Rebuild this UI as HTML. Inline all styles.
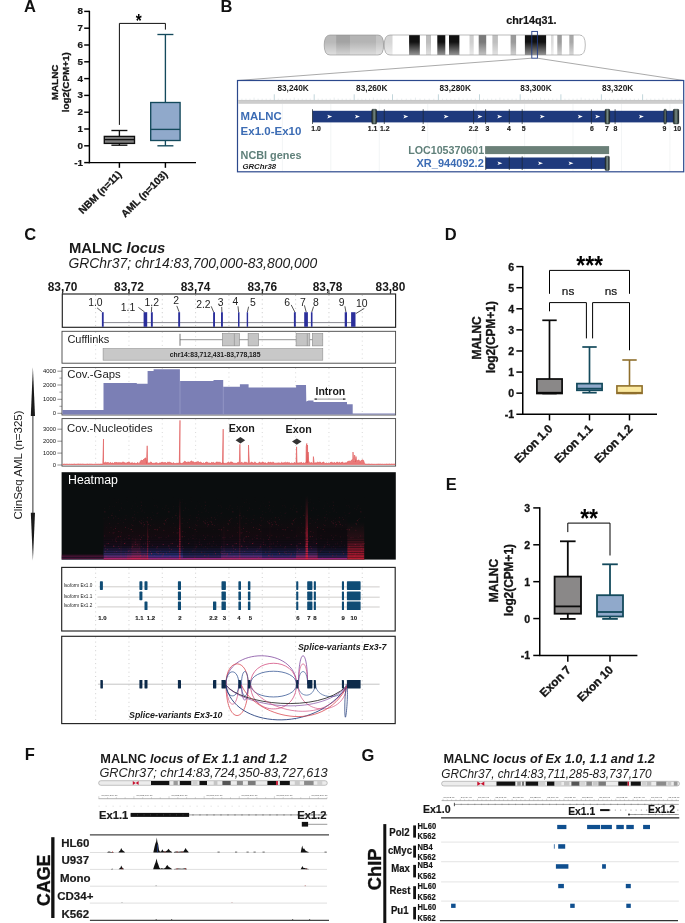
<!DOCTYPE html>
<html lang="en">
<head>
<meta charset="utf-8">
<title>MALNC locus figure</title>
<style>
html,body{margin:0;padding:0;background:#fff;}
body{width:685px;height:923px;overflow:hidden;font-family:"Liberation Sans",sans-serif;}
svg{display:block;font-family:"Liberation Sans",sans-serif;}
</style>
</head>
<body>
<svg width="685" height="923" viewBox="0 0 685 923">
<defs>
<clipPath id="chrclip">
<path d="M330 35 H378 Q383.6 35 383.6 45 Q383.6 55 378 55 H330 Q324.2 55 324.2 45 Q324.2 35 330 35 Z"/>
<path d="M390 35 H579.5 Q585.3 35 585.3 45 Q585.3 55 579.5 55 H390 Q384.2 55 384.2 45 Q384.2 35 390 35 Z"/>
</clipPath>
<linearGradient id="chrshade" x1="0" y1="0" x2="0" y2="1">
<stop offset="0" stop-color="#fff" stop-opacity="0.0"/>
<stop offset="0.35" stop-color="#fff" stop-opacity="0.0"/>
<stop offset="1" stop-color="#fff" stop-opacity="0.55"/>
</linearGradient>
<linearGradient id="cylg" x1="0" y1="0" x2="1" y2="0">
<stop offset="0" stop-color="#161e1e"/>
<stop offset="0.5" stop-color="#788d87"/>
<stop offset="1" stop-color="#161e1e"/>
</linearGradient>

<linearGradient id="hmglow" x1="0" y1="0" x2="0" y2="1">
<stop offset="0.3" stop-color="#1c0810" stop-opacity="0"/>
<stop offset="0.6" stop-color="#1c0810" stop-opacity="0.5"/>
<stop offset="0.78" stop-color="#180a1c" stop-opacity="0.8"/>
<stop offset="0.87" stop-color="#1a1c48" stop-opacity="1"/>
<stop offset="0.93" stop-color="#26307a" stop-opacity="1"/>
<stop offset="0.965" stop-color="#5a2a86" stop-opacity="1"/>
<stop offset="1" stop-color="#d4207a" stop-opacity="1"/>
</linearGradient>
<linearGradient id="hmleft" x1="0" y1="0" x2="0" y2="1">
<stop offset="0" stop-color="#50103a" stop-opacity="0"/>
<stop offset="0.45" stop-color="#a01868" stop-opacity="0.75"/>
<stop offset="0.6" stop-color="#20102c" stop-opacity="0.9"/>
<stop offset="0.8" stop-color="#901860" stop-opacity="0.8"/>
<stop offset="1" stop-color="#30184a" stop-opacity="0.9"/>
</linearGradient>
<linearGradient id="hmstreak" x1="0" y1="0" x2="0" y2="1">
<stop offset="0" stop-color="#c01a34" stop-opacity="0"/>
<stop offset="0.5" stop-color="#c81c38" stop-opacity="0.45"/>
<stop offset="1" stop-color="#f02448" stop-opacity="0.95"/>
</linearGradient>
<linearGradient id="hmblob" x1="0" y1="0" x2="0" y2="1">
<stop offset="0" stop-color="#c01838" stop-opacity="0"/>
<stop offset="0.45" stop-color="#c01838" stop-opacity="0.22"/>
<stop offset="0.7" stop-color="#d01a3c" stop-opacity="0.7"/>
<stop offset="1" stop-color="#f0203c" stop-opacity="1"/>
</linearGradient>
<linearGradient id="hmmaskg" x1="0" y1="0" x2="0" y2="1">
<stop offset="0" stop-color="#fff" stop-opacity="0"/>
<stop offset="0.25" stop-color="#fff" stop-opacity="0.2"/>
<stop offset="0.7" stop-color="#fff" stop-opacity="0.55"/>
<stop offset="1" stop-color="#fff" stop-opacity="1"/>
</linearGradient>
<mask id="hmmask" maskContentUnits="userSpaceOnUse"><rect x="60" y="495" width="340" height="65" fill="url(#hmmaskg)"/></mask>
<pattern id="hmstripes" width="4" height="2.4" patternUnits="userSpaceOnUse"><rect x="0" y="0" width="4" height="0.9" fill="#07090a" fill-opacity="0.55"/></pattern>
<pattern id="hmdots" width="64" height="64" patternUnits="userSpaceOnUse"><circle cx="28.95" cy="35.83" r="0.5" fill="#c01848"/><circle cx="28.92" cy="54.72" r="0.28" fill="#b0204a"/><circle cx="30.45" cy="39.29" r="0.28" fill="#c01848"/><circle cx="19.42" cy="5.8" r="0.46" fill="#e0203c"/><circle cx="38.11" cy="25.35" r="0.36" fill="#b0204a"/><circle cx="41.6" cy="39.88" r="0.47" fill="#e0203c"/><circle cx="3.81" cy="12.17" r="0.29" fill="#e0203c"/><circle cx="49.8" cy="20.88" r="0.4" fill="#d01a50"/><circle cx="33.22" cy="40.98" r="0.37" fill="#e0203c"/><circle cx="29.27" cy="17.8" r="0.52" fill="#e0203c"/><circle cx="45.3" cy="20.18" r="0.29" fill="#ff2a4a"/><circle cx="1.9" cy="36.04" r="0.25" fill="#e0203c"/><circle cx="54.18" cy="24.74" r="0.51" fill="#e0203c"/><circle cx="13.66" cy="59.33" r="0.24" fill="#c01848"/><circle cx="62.74" cy="25.44" r="0.24" fill="#d01a50"/><circle cx="49.82" cy="17.27" r="0.25" fill="#ff2a4a"/><circle cx="0.97" cy="26.24" r="0.5" fill="#d01a50"/><circle cx="15.77" cy="6.47" r="0.24" fill="#c01848"/><circle cx="11.37" cy="35.79" r="0.35" fill="#d01a50"/><circle cx="63.06" cy="49.25" r="0.35" fill="#c01848"/><circle cx="7.46" cy="26.93" r="0.28" fill="#ff2a4a"/><circle cx="55.32" cy="62.39" r="0.4" fill="#e0203c"/><circle cx="13.49" cy="25.23" r="0.48" fill="#b0204a"/><circle cx="6.42" cy="63.32" r="0.28" fill="#ff2a4a"/><circle cx="0.61" cy="39.06" r="0.47" fill="#c01848"/><circle cx="4.7" cy="5.77" r="0.39" fill="#d01a50"/><circle cx="0.99" cy="23.6" r="0.41" fill="#d01a50"/><circle cx="61.38" cy="30.96" r="0.39" fill="#c01848"/><circle cx="11.7" cy="9.86" r="0.49" fill="#b0204a"/><circle cx="15.97" cy="12.15" r="0.44" fill="#b0204a"/><circle cx="12.58" cy="60.81" r="0.48" fill="#b0204a"/><circle cx="5.02" cy="3.03" r="0.25" fill="#b0204a"/><circle cx="61.61" cy="15.26" r="0.43" fill="#ff2a4a"/><circle cx="26.93" cy="57.91" r="0.37" fill="#b0204a"/><circle cx="11.23" cy="46.1" r="0.24" fill="#d01a50"/><circle cx="30.68" cy="41.82" r="0.4" fill="#e0203c"/><circle cx="17.93" cy="58.71" r="0.28" fill="#e0203c"/><circle cx="4.43" cy="26.33" r="0.29" fill="#e0203c"/><circle cx="11.28" cy="23.6" r="0.39" fill="#d01a50"/><circle cx="5.9" cy="8.86" r="0.36" fill="#ff2a4a"/><circle cx="42.04" cy="44.24" r="0.4" fill="#d01a50"/><circle cx="37.75" cy="59.11" r="0.36" fill="#ff2a4a"/><circle cx="44.86" cy="61.62" r="0.23" fill="#e0203c"/><circle cx="30.86" cy="46.75" r="0.32" fill="#e0203c"/><circle cx="4.82" cy="34.95" r="0.44" fill="#d01a50"/><circle cx="50.77" cy="58.56" r="0.33" fill="#c01848"/><circle cx="57.65" cy="55.75" r="0.35" fill="#e0203c"/><circle cx="55.26" cy="36.66" r="0.41" fill="#c01848"/><circle cx="24.27" cy="0.8" r="0.24" fill="#e0203c"/><circle cx="40.92" cy="63.57" r="0.48" fill="#ff2a4a"/><circle cx="24.86" cy="47.04" r="0.39" fill="#c01848"/><circle cx="29.61" cy="34.64" r="0.38" fill="#b0204a"/><circle cx="1.91" cy="38.48" r="0.36" fill="#d01a50"/><circle cx="61.27" cy="7.22" r="0.45" fill="#c01848"/><circle cx="16.37" cy="0.72" r="0.31" fill="#b0204a"/><circle cx="12.96" cy="10.85" r="0.49" fill="#c01848"/><circle cx="31.89" cy="15.45" r="0.34" fill="#ff2a4a"/><circle cx="12.7" cy="27.58" r="0.46" fill="#d01a50"/><circle cx="56.34" cy="24.6" r="0.39" fill="#ff2a4a"/><circle cx="13.43" cy="8.61" r="0.33" fill="#e0203c"/><circle cx="45.52" cy="60.8" r="0.3" fill="#d01a50"/><circle cx="7.22" cy="30.17" r="0.5" fill="#c01848"/><circle cx="24.48" cy="33.28" r="0.42" fill="#b0204a"/><circle cx="28.96" cy="4.78" r="0.23" fill="#b0204a"/><circle cx="2.66" cy="45.35" r="0.39" fill="#ff2a4a"/><circle cx="41.55" cy="36.1" r="0.41" fill="#c01848"/><circle cx="29.11" cy="1.58" r="0.47" fill="#d01a50"/><circle cx="49.87" cy="51" r="0.52" fill="#e0203c"/><circle cx="28.57" cy="40.32" r="0.42" fill="#ff2a4a"/><circle cx="61.34" cy="43.81" r="0.28" fill="#c01848"/><circle cx="16.39" cy="45.71" r="0.45" fill="#b0204a"/><circle cx="45.71" cy="11.46" r="0.3" fill="#ff2a4a"/><circle cx="34.54" cy="60.6" r="0.37" fill="#d01a50"/><circle cx="25.19" cy="50.68" r="0.49" fill="#e0203c"/><circle cx="26.27" cy="57.13" r="0.34" fill="#c01848"/><circle cx="29.03" cy="40.04" r="0.49" fill="#c01848"/><circle cx="35.2" cy="41.77" r="0.37" fill="#ff2a4a"/><circle cx="29.68" cy="41.68" r="0.28" fill="#e0203c"/><circle cx="13.65" cy="57.6" r="0.51" fill="#ff2a4a"/><circle cx="34.37" cy="50.61" r="0.32" fill="#e0203c"/><circle cx="22.3" cy="5.3" r="0.35" fill="#b0204a"/><circle cx="26.97" cy="17.62" r="0.5" fill="#d01a50"/><circle cx="51.78" cy="4.1" r="0.46" fill="#d01a50"/><circle cx="34.12" cy="43.94" r="0.49" fill="#c01848"/><circle cx="9.52" cy="33.06" r="0.44" fill="#c01848"/><circle cx="60.53" cy="31.53" r="0.5" fill="#e0203c"/><circle cx="48.5" cy="28.12" r="0.39" fill="#b0204a"/><circle cx="40.89" cy="33.46" r="0.47" fill="#b0204a"/><circle cx="16.42" cy="42.96" r="0.51" fill="#b0204a"/><circle cx="13.33" cy="54.45" r="0.51" fill="#b0204a"/><circle cx="17.47" cy="31.85" r="0.34" fill="#e0203c"/><circle cx="32.2" cy="38.73" r="0.23" fill="#e0203c"/><circle cx="33.03" cy="25.64" r="0.46" fill="#b0204a"/><circle cx="7.8" cy="5.97" r="0.27" fill="#b0204a"/><circle cx="29.37" cy="58.93" r="0.46" fill="#c01848"/><circle cx="17.23" cy="30.28" r="0.26" fill="#c01848"/><circle cx="57.66" cy="59.88" r="0.5" fill="#b0204a"/><circle cx="20.3" cy="12.25" r="0.41" fill="#ff2a4a"/><circle cx="8.29" cy="49.87" r="0.23" fill="#d01a50"/><circle cx="9.95" cy="0.76" r="0.31" fill="#ff2a4a"/><circle cx="15.65" cy="31.92" r="0.37" fill="#b0204a"/><circle cx="7.86" cy="32.67" r="0.3" fill="#d01a50"/><circle cx="44.89" cy="56.24" r="0.23" fill="#c01848"/><circle cx="52.81" cy="39.41" r="0.38" fill="#b0204a"/><circle cx="40.86" cy="33.9" r="0.48" fill="#b0204a"/><circle cx="37.55" cy="8.73" r="0.49" fill="#ff2a4a"/><circle cx="57.77" cy="20.22" r="0.31" fill="#d01a50"/><circle cx="13.96" cy="63.89" r="0.49" fill="#d01a50"/><circle cx="56.89" cy="8.48" r="0.25" fill="#c01848"/><circle cx="6.21" cy="53.26" r="0.35" fill="#d01a50"/><circle cx="12.84" cy="40.19" r="0.46" fill="#e0203c"/><circle cx="12.86" cy="43.67" r="0.49" fill="#ff2a4a"/><circle cx="7.39" cy="32.36" r="0.45" fill="#b0204a"/><circle cx="63.91" cy="53.31" r="0.46" fill="#c01848"/><circle cx="6.8" cy="2.4" r="0.39" fill="#b0204a"/><circle cx="57.93" cy="30.8" r="0.28" fill="#e0203c"/><circle cx="13.05" cy="53.77" r="0.52" fill="#e0203c"/><circle cx="37.11" cy="8.6" r="0.42" fill="#e0203c"/><circle cx="48.94" cy="20.92" r="0.36" fill="#b0204a"/><circle cx="22.69" cy="13.45" r="0.33" fill="#e0203c"/><circle cx="54.03" cy="11.6" r="0.36" fill="#ff2a4a"/><circle cx="25.94" cy="12.49" r="0.27" fill="#b0204a"/><circle cx="50.71" cy="20.72" r="0.25" fill="#c01848"/><circle cx="36.46" cy="12.22" r="0.4" fill="#ff2a4a"/><circle cx="51.51" cy="16.53" r="0.49" fill="#d01a50"/><circle cx="52.14" cy="25.96" r="0.49" fill="#b0204a"/><circle cx="44.47" cy="49.11" r="0.45" fill="#c01848"/><circle cx="13.24" cy="11.83" r="0.46" fill="#ff2a4a"/><circle cx="30.01" cy="0.68" r="0.33" fill="#b0204a"/><circle cx="3.17" cy="17.47" r="0.51" fill="#ff2a4a"/><circle cx="21.62" cy="42.22" r="0.39" fill="#b0204a"/><circle cx="4.92" cy="32.94" r="0.37" fill="#d01a50"/><circle cx="44.88" cy="48.75" r="0.51" fill="#e0203c"/><circle cx="7.35" cy="6.92" r="0.29" fill="#c01848"/><circle cx="25.7" cy="3.23" r="0.28" fill="#c01848"/><circle cx="0.69" cy="16.55" r="0.3" fill="#ff2a4a"/><circle cx="35.2" cy="32.5" r="0.51" fill="#b0204a"/><circle cx="54.17" cy="6.38" r="0.35" fill="#e0203c"/><circle cx="35.16" cy="42.78" r="0.51" fill="#c01848"/><circle cx="59.53" cy="10.24" r="0.36" fill="#d01a50"/><circle cx="54.76" cy="34.69" r="0.4" fill="#c01848"/><circle cx="60.5" cy="26.93" r="0.38" fill="#b0204a"/><circle cx="19.99" cy="33.95" r="0.36" fill="#ff2a4a"/><circle cx="35.88" cy="18.15" r="0.43" fill="#ff2a4a"/><circle cx="1.72" cy="49.44" r="0.4" fill="#d01a50"/><circle cx="26.16" cy="43.8" r="0.24" fill="#ff2a4a"/><circle cx="47.9" cy="3.21" r="0.52" fill="#ff2a4a"/><circle cx="4.7" cy="57.96" r="0.35" fill="#c01848"/><circle cx="16.06" cy="48.35" r="0.23" fill="#e0203c"/><circle cx="59.99" cy="46.26" r="0.36" fill="#d01a50"/><circle cx="38.63" cy="7.37" r="0.41" fill="#c01848"/><circle cx="7.55" cy="55.11" r="0.33" fill="#d01a50"/><circle cx="7.96" cy="28.34" r="0.42" fill="#c01848"/><circle cx="38.47" cy="40.93" r="0.42" fill="#ff2a4a"/><circle cx="49.79" cy="33.97" r="0.52" fill="#ff2a4a"/><circle cx="46.99" cy="15.26" r="0.25" fill="#ff2a4a"/><circle cx="50.2" cy="40" r="0.33" fill="#ff2a4a"/><circle cx="39.03" cy="46.4" r="0.43" fill="#d01a50"/><circle cx="40.52" cy="48.21" r="0.28" fill="#d01a50"/><circle cx="32.14" cy="41.79" r="0.28" fill="#e0203c"/><circle cx="40.22" cy="0.61" r="0.3" fill="#e0203c"/><circle cx="39.89" cy="6.56" r="0.38" fill="#e0203c"/><circle cx="48.37" cy="58.42" r="0.27" fill="#d01a50"/><circle cx="40.39" cy="23.88" r="0.36" fill="#d01a50"/><circle cx="21.65" cy="31.64" r="0.26" fill="#e0203c"/><circle cx="51.34" cy="28.63" r="0.47" fill="#d01a50"/><circle cx="28.44" cy="47.83" r="0.34" fill="#d01a50"/><circle cx="23.61" cy="41.83" r="0.52" fill="#ff2a4a"/><circle cx="18.62" cy="48.58" r="0.47" fill="#d01a50"/><circle cx="27.37" cy="23.63" r="0.25" fill="#ff2a4a"/><circle cx="5.02" cy="5.31" r="0.39" fill="#c01848"/><circle cx="52.18" cy="29.66" r="0.47" fill="#e0203c"/><circle cx="4.87" cy="13.65" r="0.42" fill="#e0203c"/><circle cx="44.49" cy="31.66" r="0.45" fill="#ff2a4a"/><circle cx="18.11" cy="9.15" r="0.33" fill="#ff2a4a"/><circle cx="23.45" cy="7.51" r="0.43" fill="#b0204a"/><circle cx="38.07" cy="57.75" r="0.43" fill="#ff2a4a"/><circle cx="28.03" cy="51.4" r="0.31" fill="#ff2a4a"/><circle cx="14.16" cy="61.94" r="0.44" fill="#b0204a"/><circle cx="15.89" cy="23.15" r="0.33" fill="#ff2a4a"/><circle cx="43.33" cy="37.43" r="0.46" fill="#b0204a"/><circle cx="23.57" cy="24.98" r="0.27" fill="#b0204a"/><circle cx="36.02" cy="11.3" r="0.45" fill="#ff2a4a"/><circle cx="51.96" cy="14.16" r="0.24" fill="#d01a50"/><circle cx="36.32" cy="61.85" r="0.42" fill="#c01848"/><circle cx="4.1" cy="35" r="0.46" fill="#e0203c"/><circle cx="21.41" cy="17.51" r="0.25" fill="#ff2a4a"/><circle cx="5.42" cy="40.58" r="0.26" fill="#c01848"/><circle cx="15.71" cy="14.11" r="0.45" fill="#b0204a"/><circle cx="21.64" cy="29.38" r="0.33" fill="#ff2a4a"/><circle cx="43.03" cy="31.59" r="0.38" fill="#e0203c"/><circle cx="45.32" cy="58.56" r="0.34" fill="#ff2a4a"/><circle cx="54.62" cy="51.58" r="0.47" fill="#c01848"/><circle cx="61.3" cy="40.98" r="0.38" fill="#e0203c"/><circle cx="51.34" cy="26.98" r="0.35" fill="#d01a50"/><circle cx="15.73" cy="10.38" r="0.41" fill="#d01a50"/><circle cx="20.54" cy="24.92" r="0.38" fill="#ff2a4a"/><circle cx="62.06" cy="3.79" r="0.31" fill="#e0203c"/><circle cx="19.42" cy="9.95" r="0.5" fill="#e0203c"/><circle cx="48.2" cy="1.1" r="0.36" fill="#e0203c"/><circle cx="20" cy="12.65" r="0.33" fill="#b0204a"/><circle cx="15.07" cy="45.9" r="0.4" fill="#d01a50"/><circle cx="28.28" cy="57.25" r="0.34" fill="#ff2a4a"/><circle cx="40.11" cy="60.29" r="0.39" fill="#ff2a4a"/><circle cx="31.02" cy="25.77" r="0.51" fill="#b0204a"/><circle cx="49.39" cy="5.91" r="0.48" fill="#c01848"/><circle cx="3.18" cy="60.64" r="0.46" fill="#c01848"/><circle cx="62.47" cy="50.86" r="0.45" fill="#e0203c"/><circle cx="42.08" cy="15.21" r="0.22" fill="#c01848"/><circle cx="57.93" cy="28.8" r="0.29" fill="#c01848"/><circle cx="38.79" cy="10.07" r="0.27" fill="#ff2a4a"/><circle cx="9.26" cy="58.12" r="0.46" fill="#d01a50"/><circle cx="40.77" cy="63.56" r="0.3" fill="#b0204a"/><circle cx="3.39" cy="36.6" r="0.27" fill="#d01a50"/><circle cx="52.57" cy="54.16" r="0.47" fill="#e0203c"/><circle cx="22.51" cy="39.35" r="0.38" fill="#c01848"/><circle cx="44.4" cy="5.3" r="0.44" fill="#b0204a"/><circle cx="54.87" cy="19.43" r="0.46" fill="#c01848"/><circle cx="12.36" cy="43.66" r="0.45" fill="#c01848"/><circle cx="13.34" cy="34.78" r="0.38" fill="#d01a50"/><circle cx="60.58" cy="61.69" r="0.31" fill="#c01848"/><circle cx="4.87" cy="19.56" r="0.36" fill="#e0203c"/><circle cx="23.02" cy="43.97" r="0.25" fill="#c01848"/><circle cx="43.25" cy="47.78" r="0.46" fill="#e0203c"/><circle cx="41.85" cy="0.79" r="0.33" fill="#c01848"/><circle cx="15.2" cy="36.1" r="0.36" fill="#e0203c"/><circle cx="54.79" cy="54.05" r="0.44" fill="#b0204a"/><circle cx="9.74" cy="40.18" r="0.5" fill="#ff2a4a"/><circle cx="61.06" cy="48.32" r="0.39" fill="#e0203c"/><circle cx="16.41" cy="12.8" r="0.44" fill="#ff2a4a"/></pattern>
</defs>
<rect x="0" y="0" width="685" height="923" fill="#ffffff"/>
<!-- Panel A -->
<g>
<text x="24" y="11.8" font-size="16.5" font-weight="bold" fill="#111">A</text>
<line x1="89.4" y1="10.75" x2="89.4" y2="163.25" stroke="#000" stroke-width="1.45"/>
<line x1="88.75" y1="162.6" x2="196" y2="162.6" stroke="#000" stroke-width="1.45"/>
<line x1="84.2" y1="162.6" x2="89.4" y2="162.6" stroke="#000" stroke-width="1.45"/>
<text x="83" y="165.5" font-size="9.9" font-weight="bold" text-anchor="end" fill="#151515" stroke="#151515" stroke-width="0.2">-1</text>
<line x1="84.2" y1="145.8" x2="89.4" y2="145.8" stroke="#000" stroke-width="1.45"/>
<text x="83" y="148.7" font-size="9.9" font-weight="bold" text-anchor="end" fill="#151515" stroke="#151515" stroke-width="0.2">0</text>
<line x1="84.2" y1="129" x2="89.4" y2="129" stroke="#000" stroke-width="1.45"/>
<text x="83" y="131.9" font-size="9.9" font-weight="bold" text-anchor="end" fill="#151515" stroke="#151515" stroke-width="0.2">1</text>
<line x1="84.2" y1="112.2" x2="89.4" y2="112.2" stroke="#000" stroke-width="1.45"/>
<text x="83" y="115.1" font-size="9.9" font-weight="bold" text-anchor="end" fill="#151515" stroke="#151515" stroke-width="0.2">2</text>
<line x1="84.2" y1="95.4" x2="89.4" y2="95.4" stroke="#000" stroke-width="1.45"/>
<text x="83" y="98.3" font-size="9.9" font-weight="bold" text-anchor="end" fill="#151515" stroke="#151515" stroke-width="0.2">3</text>
<line x1="84.2" y1="78.6" x2="89.4" y2="78.6" stroke="#000" stroke-width="1.45"/>
<text x="83" y="81.5" font-size="9.9" font-weight="bold" text-anchor="end" fill="#151515" stroke="#151515" stroke-width="0.2">4</text>
<line x1="84.2" y1="61.8" x2="89.4" y2="61.8" stroke="#000" stroke-width="1.45"/>
<text x="83" y="64.7" font-size="9.9" font-weight="bold" text-anchor="end" fill="#151515" stroke="#151515" stroke-width="0.2">5</text>
<line x1="84.2" y1="45" x2="89.4" y2="45" stroke="#000" stroke-width="1.45"/>
<text x="83" y="47.9" font-size="9.9" font-weight="bold" text-anchor="end" fill="#151515" stroke="#151515" stroke-width="0.2">6</text>
<line x1="84.2" y1="28.2" x2="89.4" y2="28.2" stroke="#000" stroke-width="1.45"/>
<text x="83" y="31.1" font-size="9.9" font-weight="bold" text-anchor="end" fill="#151515" stroke="#151515" stroke-width="0.2">7</text>
<line x1="84.2" y1="11.4" x2="89.4" y2="11.4" stroke="#000" stroke-width="1.45"/>
<text x="83" y="14.3" font-size="9.9" font-weight="bold" text-anchor="end" fill="#151515" stroke="#151515" stroke-width="0.2">8</text>
<line x1="119.4" y1="162.6" x2="119.4" y2="167.8" stroke="#000" stroke-width="1.45"/>
<line x1="165.4" y1="162.6" x2="165.4" y2="167.8" stroke="#000" stroke-width="1.45"/>
<text x="58.4" y="82.4" font-size="9.9" font-weight="bold" text-anchor="middle" fill="#151515" transform="rotate(-90 58.4 82.4)" stroke="#151515" stroke-width="0.3">MALNC</text>
<text x="68.9" y="82.2" font-size="9.9" font-weight="bold" text-anchor="middle" fill="#151515" transform="rotate(-90 68.9 82.2)" stroke="#151515" stroke-width="0.3">log2(CPM+1)</text>
<line x1="119.4" y1="130.5" x2="119.4" y2="136.4" stroke="#0f0f0f" stroke-width="1.35"/>
<line x1="119.4" y1="143.4" x2="119.4" y2="145.2" stroke="#0f0f0f" stroke-width="1.35"/>
<line x1="111.4" y1="130.5" x2="127.4" y2="130.5" stroke="#0f0f0f" stroke-width="1.35"/>
<line x1="111.4" y1="145.2" x2="127.4" y2="145.2" stroke="#0f0f0f" stroke-width="1.35"/>
<rect x="104.3" y="136.4" width="30.2" height="7" fill="#7f7f7f" stroke="#0f0f0f" stroke-width="1.35"/>
<line x1="104.3" y1="139.6" x2="134.5" y2="139.6" stroke="#0f0f0f" stroke-width="1.35"/>
<line x1="165.4" y1="34.5" x2="165.4" y2="102.5" stroke="#144a5c" stroke-width="1.35"/>
<line x1="165.4" y1="140.5" x2="165.4" y2="145.8" stroke="#144a5c" stroke-width="1.35"/>
<line x1="157.4" y1="34.5" x2="173.4" y2="34.5" stroke="#144a5c" stroke-width="1.35"/>
<line x1="157.4" y1="145.8" x2="173.4" y2="145.8" stroke="#144a5c" stroke-width="1.35"/>
<rect x="150.7" y="102.5" width="29.4" height="38" fill="#90a9cb" stroke="#144a5c" stroke-width="1.35"/>
<line x1="150.7" y1="129.4" x2="180.1" y2="129.4" stroke="#144a5c" stroke-width="1.35"/>
<path d="M119.4 124.9 V23.4 H165.4 V29.6" fill="none" stroke="#000" stroke-width="0.95"/>
<text transform="translate(138.8 26.5) scale(1 1.22)" font-size="15.3" font-weight="bold" text-anchor="middle" fill="#000">*</text>
<text x="122.2" y="175.1" font-size="10.2" font-weight="bold" text-anchor="end" fill="#151515" transform="rotate(-45 122.2 175.1)" stroke="#151515" stroke-width="0.3">NBM (n=11)</text>
<text x="168.2" y="175.1" font-size="10.2" font-weight="bold" text-anchor="end" fill="#151515" transform="rotate(-45 168.2 175.1)" stroke="#151515" stroke-width="0.3">AML (n=103)</text>
</g>
<!-- Panel B -->
<g>
<text x="220.5" y="11.8" font-size="16.5" font-weight="bold" fill="#111">B</text>
<text x="506.2" y="24.2" font-size="10.8" font-weight="bold" fill="#151515" stroke="#151515" stroke-width="0.2">chr14q31.</text>
<g clip-path="url(#chrclip)">
<rect x="324" y="35" width="60" height="20" fill="#b9b9b9"/>
<rect x="336.2" y="35" width="13.8" height="20" fill="#a3a3a3"/>
<rect x="350" y="35" width="26" height="20" fill="#b4b4b4"/>
<rect x="376" y="35" width="8" height="20" fill="#c4c4c4"/>
<rect x="384" y="35" width="203" height="20" fill="#ffffff"/>
<rect x="384" y="35" width="8.5" height="20" fill="#d6d6d6"/>
<rect x="409.1" y="35" width="10.7" height="20" fill="#111"/>
<rect x="426" y="35" width="5" height="20" fill="#bdbdbd"/>
<rect x="437.3" y="35" width="8" height="20" fill="#111"/>
<rect x="449" y="35" width="10.4" height="20" fill="#111"/>
<rect x="469.5" y="35" width="4.2" height="20" fill="#cfcfcf"/>
<rect x="478.7" y="35" width="7.5" height="20" fill="#7a7a7a"/>
<rect x="492.4" y="35" width="5.5" height="20" fill="#bfbfbf"/>
<rect x="510.6" y="35" width="5.5" height="20" fill="#9a9a9a"/>
<rect x="524.9" y="35" width="21.2" height="20" fill="#111"/>
<rect x="551" y="35" width="2.6" height="20" fill="#dcdcdc"/>
<rect x="557.3" y="35" width="4.5" height="20" fill="#9c9c9c"/>
<rect x="569.3" y="35" width="4.3" height="20" fill="#a8a8a8"/>
<rect x="324" y="35" width="263" height="20" fill="url(#chrshade)"/>
</g>
<path d="M330 35 H378 Q383.6 35 383.6 45 Q383.6 55 378 55 H330 Q324.2 55 324.2 45 Q324.2 35 330 35 Z" fill="none" stroke="#8d8d8d" stroke-width="0.6"/>
<path d="M390 35 H579.5 Q585.3 35 585.3 45 Q585.3 55 579.5 55 H390 Q384.2 55 384.2 45 Q384.2 35 390 35 Z" fill="none" stroke="#8d8d8d" stroke-width="0.6"/>
<rect x="531.8" y="31.4" width="5.6" height="26.8" fill="none" stroke="#233c86" stroke-width="0.9"/>
<line x1="531.8" y1="58.2" x2="237.5" y2="80.5" stroke="#555" stroke-width="0.5"/>
<line x1="537.4" y1="58.2" x2="683.7" y2="80.5" stroke="#555" stroke-width="0.5"/>
<rect x="237.5" y="80.5" width="446.2" height="91.3" fill="#fff" stroke="#2b488c" stroke-width="1.2"/>
<line x1="282.4" y1="104" x2="282.4" y2="171" stroke="#eef0f2" stroke-width="0.7"/>
<line x1="330.8" y1="104" x2="330.8" y2="171" stroke="#eef0f2" stroke-width="0.7"/>
<line x1="379.3" y1="104" x2="379.3" y2="171" stroke="#eef0f2" stroke-width="0.7"/>
<line x1="427.7" y1="104" x2="427.7" y2="171" stroke="#eef0f2" stroke-width="0.7"/>
<line x1="476.2" y1="104" x2="476.2" y2="171" stroke="#eef0f2" stroke-width="0.7"/>
<line x1="524.6" y1="104" x2="524.6" y2="171" stroke="#eef0f2" stroke-width="0.7"/>
<line x1="573" y1="104" x2="573" y2="171" stroke="#eef0f2" stroke-width="0.7"/>
<line x1="621.5" y1="104" x2="621.5" y2="171" stroke="#eef0f2" stroke-width="0.7"/>
<line x1="669.9" y1="104" x2="669.9" y2="171" stroke="#eef0f2" stroke-width="0.7"/>
<rect x="238.1" y="100.2" width="445" height="3.6" fill="#cdcdcd"/>
<line x1="238.1" y1="100.4" x2="683.1" y2="100.4" stroke="#b5b5b5" stroke-width="0.5"/>
<line x1="241.9" y1="98.6" x2="241.9" y2="100.2" stroke="#c4d2d6" stroke-width="0.4"/>
<line x1="245.95" y1="98.6" x2="245.95" y2="100.2" stroke="#c4d2d6" stroke-width="0.4"/>
<line x1="250" y1="98.6" x2="250" y2="100.2" stroke="#c4d2d6" stroke-width="0.4"/>
<line x1="254.05" y1="97.6" x2="254.05" y2="100.2" stroke="#c4d2d6" stroke-width="0.4"/>
<line x1="258.1" y1="98.6" x2="258.1" y2="100.2" stroke="#c4d2d6" stroke-width="0.4"/>
<line x1="262.15" y1="98.6" x2="262.15" y2="100.2" stroke="#c4d2d6" stroke-width="0.4"/>
<line x1="266.2" y1="98.6" x2="266.2" y2="100.2" stroke="#c4d2d6" stroke-width="0.4"/>
<line x1="270.25" y1="98.6" x2="270.25" y2="100.2" stroke="#c4d2d6" stroke-width="0.4"/>
<line x1="274.3" y1="94.3" x2="274.3" y2="100.2" stroke="#a9c4cc" stroke-width="0.7"/>
<line x1="278.29" y1="98.6" x2="278.29" y2="100.2" stroke="#c4d2d6" stroke-width="0.4"/>
<line x1="282.28" y1="98.6" x2="282.28" y2="100.2" stroke="#c4d2d6" stroke-width="0.4"/>
<line x1="286.27" y1="98.6" x2="286.27" y2="100.2" stroke="#c4d2d6" stroke-width="0.4"/>
<line x1="290.26" y1="98.6" x2="290.26" y2="100.2" stroke="#c4d2d6" stroke-width="0.4"/>
<line x1="294.25" y1="97.6" x2="294.25" y2="100.2" stroke="#c4d2d6" stroke-width="0.4"/>
<line x1="298.24" y1="98.6" x2="298.24" y2="100.2" stroke="#c4d2d6" stroke-width="0.4"/>
<line x1="302.23" y1="98.6" x2="302.23" y2="100.2" stroke="#c4d2d6" stroke-width="0.4"/>
<line x1="306.22" y1="98.6" x2="306.22" y2="100.2" stroke="#c4d2d6" stroke-width="0.4"/>
<line x1="310.21" y1="98.6" x2="310.21" y2="100.2" stroke="#c4d2d6" stroke-width="0.4"/>
<line x1="314.2" y1="94.3" x2="314.2" y2="100.2" stroke="#a9c4cc" stroke-width="0.7"/>
<line x1="318.2" y1="98.6" x2="318.2" y2="100.2" stroke="#c4d2d6" stroke-width="0.4"/>
<line x1="322.2" y1="98.6" x2="322.2" y2="100.2" stroke="#c4d2d6" stroke-width="0.4"/>
<line x1="326.2" y1="98.6" x2="326.2" y2="100.2" stroke="#c4d2d6" stroke-width="0.4"/>
<line x1="330.2" y1="98.6" x2="330.2" y2="100.2" stroke="#c4d2d6" stroke-width="0.4"/>
<line x1="334.2" y1="97.6" x2="334.2" y2="100.2" stroke="#c4d2d6" stroke-width="0.4"/>
<line x1="338.2" y1="98.6" x2="338.2" y2="100.2" stroke="#c4d2d6" stroke-width="0.4"/>
<line x1="342.2" y1="98.6" x2="342.2" y2="100.2" stroke="#c4d2d6" stroke-width="0.4"/>
<line x1="346.2" y1="98.6" x2="346.2" y2="100.2" stroke="#c4d2d6" stroke-width="0.4"/>
<line x1="350.2" y1="98.6" x2="350.2" y2="100.2" stroke="#c4d2d6" stroke-width="0.4"/>
<line x1="354.2" y1="94.3" x2="354.2" y2="100.2" stroke="#a9c4cc" stroke-width="0.7"/>
<line x1="358.03" y1="98.6" x2="358.03" y2="100.2" stroke="#c4d2d6" stroke-width="0.4"/>
<line x1="361.86" y1="98.6" x2="361.86" y2="100.2" stroke="#c4d2d6" stroke-width="0.4"/>
<line x1="365.69" y1="98.6" x2="365.69" y2="100.2" stroke="#c4d2d6" stroke-width="0.4"/>
<line x1="369.52" y1="98.6" x2="369.52" y2="100.2" stroke="#c4d2d6" stroke-width="0.4"/>
<line x1="373.35" y1="97.6" x2="373.35" y2="100.2" stroke="#c4d2d6" stroke-width="0.4"/>
<line x1="377.18" y1="98.6" x2="377.18" y2="100.2" stroke="#c4d2d6" stroke-width="0.4"/>
<line x1="381.01" y1="98.6" x2="381.01" y2="100.2" stroke="#c4d2d6" stroke-width="0.4"/>
<line x1="384.84" y1="98.6" x2="384.84" y2="100.2" stroke="#c4d2d6" stroke-width="0.4"/>
<line x1="388.67" y1="98.6" x2="388.67" y2="100.2" stroke="#c4d2d6" stroke-width="0.4"/>
<line x1="392.5" y1="94.3" x2="392.5" y2="100.2" stroke="#a9c4cc" stroke-width="0.7"/>
<line x1="397.09" y1="98.6" x2="397.09" y2="100.2" stroke="#c4d2d6" stroke-width="0.4"/>
<line x1="401.68" y1="98.6" x2="401.68" y2="100.2" stroke="#c4d2d6" stroke-width="0.4"/>
<line x1="406.27" y1="98.6" x2="406.27" y2="100.2" stroke="#c4d2d6" stroke-width="0.4"/>
<line x1="410.86" y1="98.6" x2="410.86" y2="100.2" stroke="#c4d2d6" stroke-width="0.4"/>
<line x1="415.45" y1="97.6" x2="415.45" y2="100.2" stroke="#c4d2d6" stroke-width="0.4"/>
<line x1="420.04" y1="98.6" x2="420.04" y2="100.2" stroke="#c4d2d6" stroke-width="0.4"/>
<line x1="424.63" y1="98.6" x2="424.63" y2="100.2" stroke="#c4d2d6" stroke-width="0.4"/>
<line x1="429.22" y1="98.6" x2="429.22" y2="100.2" stroke="#c4d2d6" stroke-width="0.4"/>
<line x1="433.81" y1="98.6" x2="433.81" y2="100.2" stroke="#c4d2d6" stroke-width="0.4"/>
<line x1="438.4" y1="94.3" x2="438.4" y2="100.2" stroke="#a9c4cc" stroke-width="0.7"/>
<line x1="442.51" y1="98.6" x2="442.51" y2="100.2" stroke="#c4d2d6" stroke-width="0.4"/>
<line x1="446.62" y1="98.6" x2="446.62" y2="100.2" stroke="#c4d2d6" stroke-width="0.4"/>
<line x1="450.73" y1="98.6" x2="450.73" y2="100.2" stroke="#c4d2d6" stroke-width="0.4"/>
<line x1="454.84" y1="98.6" x2="454.84" y2="100.2" stroke="#c4d2d6" stroke-width="0.4"/>
<line x1="458.95" y1="97.6" x2="458.95" y2="100.2" stroke="#c4d2d6" stroke-width="0.4"/>
<line x1="463.06" y1="98.6" x2="463.06" y2="100.2" stroke="#c4d2d6" stroke-width="0.4"/>
<line x1="467.17" y1="98.6" x2="467.17" y2="100.2" stroke="#c4d2d6" stroke-width="0.4"/>
<line x1="471.28" y1="98.6" x2="471.28" y2="100.2" stroke="#c4d2d6" stroke-width="0.4"/>
<line x1="475.39" y1="98.6" x2="475.39" y2="100.2" stroke="#c4d2d6" stroke-width="0.4"/>
<line x1="479.5" y1="94.3" x2="479.5" y2="100.2" stroke="#a9c4cc" stroke-width="0.7"/>
<line x1="483.57" y1="98.6" x2="483.57" y2="100.2" stroke="#c4d2d6" stroke-width="0.4"/>
<line x1="487.64" y1="98.6" x2="487.64" y2="100.2" stroke="#c4d2d6" stroke-width="0.4"/>
<line x1="491.71" y1="98.6" x2="491.71" y2="100.2" stroke="#c4d2d6" stroke-width="0.4"/>
<line x1="495.78" y1="98.6" x2="495.78" y2="100.2" stroke="#c4d2d6" stroke-width="0.4"/>
<line x1="499.85" y1="97.6" x2="499.85" y2="100.2" stroke="#c4d2d6" stroke-width="0.4"/>
<line x1="503.92" y1="98.6" x2="503.92" y2="100.2" stroke="#c4d2d6" stroke-width="0.4"/>
<line x1="507.99" y1="98.6" x2="507.99" y2="100.2" stroke="#c4d2d6" stroke-width="0.4"/>
<line x1="512.06" y1="98.6" x2="512.06" y2="100.2" stroke="#c4d2d6" stroke-width="0.4"/>
<line x1="516.13" y1="98.6" x2="516.13" y2="100.2" stroke="#c4d2d6" stroke-width="0.4"/>
<line x1="520.2" y1="94.3" x2="520.2" y2="100.2" stroke="#a9c4cc" stroke-width="0.7"/>
<line x1="524.27" y1="98.6" x2="524.27" y2="100.2" stroke="#c4d2d6" stroke-width="0.4"/>
<line x1="528.34" y1="98.6" x2="528.34" y2="100.2" stroke="#c4d2d6" stroke-width="0.4"/>
<line x1="532.41" y1="98.6" x2="532.41" y2="100.2" stroke="#c4d2d6" stroke-width="0.4"/>
<line x1="536.48" y1="98.6" x2="536.48" y2="100.2" stroke="#c4d2d6" stroke-width="0.4"/>
<line x1="540.55" y1="97.6" x2="540.55" y2="100.2" stroke="#c4d2d6" stroke-width="0.4"/>
<line x1="544.62" y1="98.6" x2="544.62" y2="100.2" stroke="#c4d2d6" stroke-width="0.4"/>
<line x1="548.69" y1="98.6" x2="548.69" y2="100.2" stroke="#c4d2d6" stroke-width="0.4"/>
<line x1="552.76" y1="98.6" x2="552.76" y2="100.2" stroke="#c4d2d6" stroke-width="0.4"/>
<line x1="556.83" y1="98.6" x2="556.83" y2="100.2" stroke="#c4d2d6" stroke-width="0.4"/>
<line x1="560.9" y1="94.3" x2="560.9" y2="100.2" stroke="#a9c4cc" stroke-width="0.7"/>
<line x1="564.95" y1="98.6" x2="564.95" y2="100.2" stroke="#c4d2d6" stroke-width="0.4"/>
<line x1="569" y1="98.6" x2="569" y2="100.2" stroke="#c4d2d6" stroke-width="0.4"/>
<line x1="573.05" y1="98.6" x2="573.05" y2="100.2" stroke="#c4d2d6" stroke-width="0.4"/>
<line x1="577.1" y1="98.6" x2="577.1" y2="100.2" stroke="#c4d2d6" stroke-width="0.4"/>
<line x1="581.15" y1="97.6" x2="581.15" y2="100.2" stroke="#c4d2d6" stroke-width="0.4"/>
<line x1="585.2" y1="98.6" x2="585.2" y2="100.2" stroke="#c4d2d6" stroke-width="0.4"/>
<line x1="589.25" y1="98.6" x2="589.25" y2="100.2" stroke="#c4d2d6" stroke-width="0.4"/>
<line x1="593.3" y1="98.6" x2="593.3" y2="100.2" stroke="#c4d2d6" stroke-width="0.4"/>
<line x1="597.35" y1="98.6" x2="597.35" y2="100.2" stroke="#c4d2d6" stroke-width="0.4"/>
<line x1="601.4" y1="94.3" x2="601.4" y2="100.2" stroke="#a9c4cc" stroke-width="0.7"/>
<line x1="605.52" y1="98.6" x2="605.52" y2="100.2" stroke="#c4d2d6" stroke-width="0.4"/>
<line x1="609.64" y1="98.6" x2="609.64" y2="100.2" stroke="#c4d2d6" stroke-width="0.4"/>
<line x1="613.76" y1="98.6" x2="613.76" y2="100.2" stroke="#c4d2d6" stroke-width="0.4"/>
<line x1="617.88" y1="98.6" x2="617.88" y2="100.2" stroke="#c4d2d6" stroke-width="0.4"/>
<line x1="622" y1="97.6" x2="622" y2="100.2" stroke="#c4d2d6" stroke-width="0.4"/>
<line x1="626.12" y1="98.6" x2="626.12" y2="100.2" stroke="#c4d2d6" stroke-width="0.4"/>
<line x1="630.24" y1="98.6" x2="630.24" y2="100.2" stroke="#c4d2d6" stroke-width="0.4"/>
<line x1="634.36" y1="98.6" x2="634.36" y2="100.2" stroke="#c4d2d6" stroke-width="0.4"/>
<line x1="638.48" y1="98.6" x2="638.48" y2="100.2" stroke="#c4d2d6" stroke-width="0.4"/>
<line x1="642.6" y1="94.3" x2="642.6" y2="100.2" stroke="#a9c4cc" stroke-width="0.7"/>
<line x1="646.68" y1="98.6" x2="646.68" y2="100.2" stroke="#c4d2d6" stroke-width="0.4"/>
<line x1="650.76" y1="98.6" x2="650.76" y2="100.2" stroke="#c4d2d6" stroke-width="0.4"/>
<line x1="654.84" y1="98.6" x2="654.84" y2="100.2" stroke="#c4d2d6" stroke-width="0.4"/>
<line x1="658.92" y1="98.6" x2="658.92" y2="100.2" stroke="#c4d2d6" stroke-width="0.4"/>
<line x1="663" y1="97.6" x2="663" y2="100.2" stroke="#c4d2d6" stroke-width="0.4"/>
<line x1="667.08" y1="98.6" x2="667.08" y2="100.2" stroke="#c4d2d6" stroke-width="0.4"/>
<line x1="671.16" y1="98.6" x2="671.16" y2="100.2" stroke="#c4d2d6" stroke-width="0.4"/>
<line x1="675.24" y1="98.6" x2="675.24" y2="100.2" stroke="#c4d2d6" stroke-width="0.4"/>
<line x1="679.32" y1="98.6" x2="679.32" y2="100.2" stroke="#c4d2d6" stroke-width="0.4"/>
<text x="277.4" y="91.3" font-size="8.3" font-weight="bold" fill="#1c1c1c">83,240K</text>
<text x="356.1" y="91.3" font-size="8.3" font-weight="bold" fill="#1c1c1c">83,260K</text>
<text x="439.5" y="91.3" font-size="8.3" font-weight="bold" fill="#1c1c1c">83,280K</text>
<text x="520.3" y="91.3" font-size="8.3" font-weight="bold" fill="#1c1c1c">83,300K</text>
<text x="601.9" y="91.3" font-size="8.3" font-weight="bold" fill="#1c1c1c">83,320K</text>
<text x="240.6" y="120" font-size="11.4" font-weight="bold" fill="#3c6cb4">MALNC</text>
<text x="240.6" y="134.9" font-size="11.5" font-weight="bold" fill="#3c6cb4">Ex1.0-Ex10</text>
<text x="240.6" y="158.6" font-size="10.85" font-weight="bold" fill="#60807a">NCBI genes</text>
<text x="242.4" y="168.6" font-size="7.8" font-weight="bold" font-style="italic" fill="#1c1c1c">GRChr38</text>
<rect x="312.4" y="110.8" width="366.4" height="11.6" fill="#1f3a7d"/>
<line x1="312.5" y1="109.2" x2="312.5" y2="124" stroke="#1a2430" stroke-width="0.7"/>
<line x1="384.3" y1="109.2" x2="384.3" y2="124" stroke="#1a2430" stroke-width="0.7"/>
<line x1="423.2" y1="109.2" x2="423.2" y2="124" stroke="#1a2430" stroke-width="0.7"/>
<line x1="473.6" y1="109.2" x2="473.6" y2="124" stroke="#1a2430" stroke-width="0.7"/>
<line x1="485.6" y1="109.2" x2="485.6" y2="124" stroke="#1a2430" stroke-width="0.7"/>
<line x1="509.3" y1="109.2" x2="509.3" y2="124" stroke="#1a2430" stroke-width="0.7"/>
<line x1="522.2" y1="109.2" x2="522.2" y2="124" stroke="#1a2430" stroke-width="0.7"/>
<line x1="591.4" y1="109.2" x2="591.4" y2="124" stroke="#1a2430" stroke-width="0.7"/>
<line x1="615.1" y1="109.2" x2="615.1" y2="124" stroke="#1a2430" stroke-width="0.7"/>
<rect x="371.8" y="109.3" width="4.8" height="14.6" fill="url(#cylg)" stroke="#1c2626" stroke-width="0.5" rx="0.8"/>
<rect x="605.1" y="109.3" width="4.6" height="14.6" fill="url(#cylg)" stroke="#1c2626" stroke-width="0.5" rx="0.8"/>
<rect x="663.9" y="109.3" width="2.4" height="14.6" fill="url(#cylg)" stroke="#1c2626" stroke-width="0.5" rx="0.8"/>
<rect x="673.3" y="109.3" width="5.5" height="14.6" fill="url(#cylg)" stroke="#1c2626" stroke-width="0.5" rx="0.8"/>
<path d="M327.2 114.8 L332.2 116.6 L327.2 118.4 L328.4 116.6 Z" fill="#fff"/>
<path d="M354.9 114.8 L359.9 116.6 L354.9 118.4 L356.1 116.6 Z" fill="#fff"/>
<path d="M403.3 114.8 L408.3 116.6 L403.3 118.4 L404.5 116.6 Z" fill="#fff"/>
<path d="M443.8 114.8 L448.8 116.6 L443.8 118.4 L445 116.6 Z" fill="#fff"/>
<path d="M477.5 114.8 L482.5 116.6 L477.5 118.4 L478.7 116.6 Z" fill="#fff"/>
<path d="M497.2 114.8 L502.2 116.6 L497.2 118.4 L498.4 116.6 Z" fill="#fff"/>
<path d="M539.9 114.8 L544.9 116.6 L539.9 118.4 L541.1 116.6 Z" fill="#fff"/>
<path d="M577.8 114.8 L582.8 116.6 L577.8 118.4 L579 116.6 Z" fill="#fff"/>
<path d="M595.2 114.8 L600.2 116.6 L595.2 118.4 L596.4 116.6 Z" fill="#fff"/>
<path d="M638.9 114.8 L643.9 116.6 L638.9 118.4 L640.1 116.6 Z" fill="#fff"/>
<text x="316.1" y="131.4" font-size="6.9" font-weight="bold" text-anchor="middle" fill="#1c1c1c" stroke="#1c1c1c" stroke-width="0.15">1.0</text>
<text x="372.6" y="131.4" font-size="6.9" font-weight="bold" text-anchor="middle" fill="#1c1c1c" stroke="#1c1c1c" stroke-width="0.15">1.1</text>
<text x="384.8" y="131.4" font-size="6.9" font-weight="bold" text-anchor="middle" fill="#1c1c1c" stroke="#1c1c1c" stroke-width="0.15">1.2</text>
<text x="423.3" y="131.4" font-size="6.9" font-weight="bold" text-anchor="middle" fill="#1c1c1c" stroke="#1c1c1c" stroke-width="0.15">2</text>
<text x="473.6" y="131.4" font-size="6.9" font-weight="bold" text-anchor="middle" fill="#1c1c1c" stroke="#1c1c1c" stroke-width="0.15">2.2</text>
<text x="487.4" y="131.4" font-size="6.9" font-weight="bold" text-anchor="middle" fill="#1c1c1c" stroke="#1c1c1c" stroke-width="0.15">3</text>
<text x="509" y="131.4" font-size="6.9" font-weight="bold" text-anchor="middle" fill="#1c1c1c" stroke="#1c1c1c" stroke-width="0.15">4</text>
<text x="523.6" y="131.4" font-size="6.9" font-weight="bold" text-anchor="middle" fill="#1c1c1c" stroke="#1c1c1c" stroke-width="0.15">5</text>
<text x="591.9" y="131.4" font-size="6.9" font-weight="bold" text-anchor="middle" fill="#1c1c1c" stroke="#1c1c1c" stroke-width="0.15">6</text>
<text x="606.9" y="131.4" font-size="6.9" font-weight="bold" text-anchor="middle" fill="#1c1c1c" stroke="#1c1c1c" stroke-width="0.15">7</text>
<text x="615.3" y="131.4" font-size="6.9" font-weight="bold" text-anchor="middle" fill="#1c1c1c" stroke="#1c1c1c" stroke-width="0.15">8</text>
<text x="664.5" y="131.4" font-size="6.9" font-weight="bold" text-anchor="middle" fill="#1c1c1c" stroke="#1c1c1c" stroke-width="0.15">9</text>
<text x="677.3" y="131.4" font-size="6.9" font-weight="bold" text-anchor="middle" fill="#1c1c1c" stroke="#1c1c1c" stroke-width="0.15">10</text>
<text x="484.2" y="154.1" font-size="10.7" font-weight="bold" text-anchor="end" fill="#60807a">LOC105370601</text>
<rect x="485.1" y="146.1" width="124" height="8" fill="#6b8078"/>
<text x="483.8" y="166.9" font-size="11" font-weight="bold" text-anchor="end" fill="#3c6cb4">XR_944092.2</text>
<rect x="485.6" y="157.5" width="123.5" height="11.4" fill="#1f3a7d"/>
<line x1="485.7" y1="156.4" x2="485.7" y2="170" stroke="#1a2430" stroke-width="0.7"/>
<line x1="509.3" y1="156.4" x2="509.3" y2="170" stroke="#1a2430" stroke-width="0.7"/>
<line x1="522.2" y1="156.4" x2="522.2" y2="170" stroke="#1a2430" stroke-width="0.7"/>
<line x1="591.4" y1="156.4" x2="591.4" y2="170" stroke="#1a2430" stroke-width="0.7"/>
<rect x="605.1" y="156.2" width="4.2" height="14.2" fill="url(#cylg)" stroke="#1c2626" stroke-width="0.5" rx="0.8"/>
<path d="M497.4 161.4 L502.4 163.2 L497.4 165 L498.6 163.2 Z" fill="#fff"/>
<path d="M538 161.4 L543 163.2 L538 165 L539.2 163.2 Z" fill="#fff"/>
<path d="M568.5 161.4 L573.5 163.2 L568.5 165 L569.7 163.2 Z" fill="#fff"/>
</g>
<!-- Panel C -->
<g>
<text x="24.3" y="240" font-size="16.5" font-weight="bold" fill="#111">C</text>
<text x="69.0" y="253" font-size="14.8" font-weight="bold" fill="#1a1a1a">MALNC <tspan font-style="italic">locus</tspan></text>
<text x="68.5" y="268.3" font-size="13.9" font-style="italic" fill="#1c1c1c">GRChr37; chr14:83,700,000-83,800,000</text>
<text x="62.6" y="291.2" font-size="11.9" font-weight="bold" text-anchor="middle" fill="#1a1a1a">83,70</text>
<text x="129" y="291.2" font-size="11.9" font-weight="bold" text-anchor="middle" fill="#1a1a1a">83,72</text>
<text x="195.6" y="291.2" font-size="11.9" font-weight="bold" text-anchor="middle" fill="#1a1a1a">83,74</text>
<text x="262.3" y="291.2" font-size="11.9" font-weight="bold" text-anchor="middle" fill="#1a1a1a">83,76</text>
<text x="327.6" y="291.2" font-size="11.9" font-weight="bold" text-anchor="middle" fill="#1a1a1a">83,78</text>
<text x="390.4" y="291.2" font-size="11.9" font-weight="bold" text-anchor="middle" fill="#1a1a1a">83,80</text>
<line x1="62.6" y1="290" x2="62.6" y2="294" stroke="#222" stroke-width="0.8"/>
<line x1="129" y1="290" x2="129" y2="294" stroke="#222" stroke-width="0.8"/>
<line x1="195.6" y1="290" x2="195.6" y2="294" stroke="#222" stroke-width="0.8"/>
<line x1="262.3" y1="290" x2="262.3" y2="294" stroke="#222" stroke-width="0.8"/>
<line x1="329" y1="290" x2="329" y2="294" stroke="#222" stroke-width="0.8"/>
<line x1="390.6" y1="290" x2="390.6" y2="294" stroke="#222" stroke-width="0.8"/>
<rect x="62.3" y="294" width="333.3" height="33.3" fill="#fff" stroke="#222" stroke-width="1.15"/>
<line x1="95.63" y1="295" x2="95.63" y2="326" stroke="#b9b9b9" stroke-width="0.8" stroke-dasharray="1 3.3"/>
<line x1="128.96" y1="295" x2="128.96" y2="326" stroke="#b9b9b9" stroke-width="0.8" stroke-dasharray="1 3.3"/>
<line x1="162.29" y1="295" x2="162.29" y2="326" stroke="#b9b9b9" stroke-width="0.8" stroke-dasharray="1 3.3"/>
<line x1="195.62" y1="295" x2="195.62" y2="326" stroke="#b9b9b9" stroke-width="0.8" stroke-dasharray="1 3.3"/>
<line x1="228.95" y1="295" x2="228.95" y2="326" stroke="#b9b9b9" stroke-width="0.8" stroke-dasharray="1 3.3"/>
<line x1="262.28" y1="295" x2="262.28" y2="326" stroke="#b9b9b9" stroke-width="0.8" stroke-dasharray="1 3.3"/>
<line x1="295.61" y1="295" x2="295.61" y2="326" stroke="#b9b9b9" stroke-width="0.8" stroke-dasharray="1 3.3"/>
<line x1="328.94" y1="295" x2="328.94" y2="326" stroke="#b9b9b9" stroke-width="0.8" stroke-dasharray="1 3.3"/>
<line x1="362.27" y1="295" x2="362.27" y2="326" stroke="#b9b9b9" stroke-width="0.8" stroke-dasharray="1 3.3"/>
<line x1="102.8" y1="322.6" x2="353" y2="322.6" stroke="#3a3a4a" stroke-width="0.6"/>
<rect x="101.9" y="312.2" width="1.8" height="14.6" fill="#2b2f9b"/>
<rect x="143.6" y="312.2" width="3.6" height="14.6" fill="#2b2f9b"/>
<rect x="150.9" y="312.2" width="1.9" height="14.6" fill="#2b2f9b"/>
<rect x="178.2" y="312.2" width="1.9" height="14.6" fill="#2b2f9b"/>
<rect x="213.1" y="312.2" width="1.9" height="14.6" fill="#2b2f9b"/>
<rect x="221" y="312.2" width="1.9" height="14.6" fill="#2b2f9b"/>
<rect x="238" y="312.2" width="1.5" height="14.6" fill="#2b2f9b"/>
<rect x="246.7" y="312.2" width="1.4" height="14.6" fill="#2b2f9b"/>
<rect x="293.9" y="312.2" width="1.9" height="14.6" fill="#2b2f9b"/>
<rect x="304.2" y="312.2" width="3.7" height="14.6" fill="#2b2f9b"/>
<rect x="310.9" y="312.2" width="1.6" height="14.6" fill="#2b2f9b"/>
<rect x="344.7" y="312.2" width="2.3" height="14.6" fill="#2b2f9b"/>
<rect x="351.1" y="312.2" width="4.4" height="14.6" fill="#2b2f9b"/>
<text x="88.2" y="305.8" font-size="10.4" fill="#222">1.0</text>
<line x1="97.1" y1="307.9" x2="101.8" y2="311.7" stroke="#444" stroke-width="0.9"/>
<text x="120.8" y="310.9" font-size="10.4" fill="#222">1.1</text>
<line x1="138.4" y1="307.4" x2="144.6" y2="312" stroke="#444" stroke-width="0.9"/>
<text x="144.6" y="305.9" font-size="10.4" fill="#222">1.2</text>
<line x1="151.7" y1="306.8" x2="151.4" y2="312" stroke="#444" stroke-width="0.9"/>
<text x="173.2" y="303.8" font-size="10.4" fill="#222">2</text>
<line x1="176.8" y1="305.9" x2="179.1" y2="311.8" stroke="#444" stroke-width="0.9"/>
<text x="196.2" y="307.8" font-size="10.4" fill="#222">2.2</text>
<line x1="211.2" y1="306.3" x2="213.6" y2="312" stroke="#444" stroke-width="0.9"/>
<text x="217.7" y="305.7" font-size="10.4" fill="#222">3</text>
<line x1="221.7" y1="306.9" x2="221.9" y2="312" stroke="#444" stroke-width="0.9"/>
<text x="232.4" y="304.9" font-size="10.4" fill="#222">4</text>
<line x1="238" y1="306.3" x2="238.6" y2="312" stroke="#444" stroke-width="0.9"/>
<text x="249.9" y="306.3" font-size="10.4" fill="#222">5</text>
<line x1="248.6" y1="306.7" x2="247.4" y2="312" stroke="#444" stroke-width="0.9"/>
<text x="284.3" y="306.3" font-size="10.4" fill="#222">6</text>
<line x1="291.2" y1="304.9" x2="294.8" y2="312" stroke="#444" stroke-width="0.9"/>
<text x="300" y="305.9" font-size="10.4" fill="#222">7</text>
<line x1="304.4" y1="305.3" x2="306.2" y2="312" stroke="#444" stroke-width="0.9"/>
<text x="313.1" y="306.3" font-size="10.4" fill="#222">8</text>
<line x1="313.6" y1="306.5" x2="311.8" y2="312" stroke="#444" stroke-width="0.9"/>
<text x="338.8" y="305.9" font-size="10.4" fill="#222">9</text>
<line x1="344.9" y1="306.3" x2="345.9" y2="312" stroke="#444" stroke-width="0.9"/>
<text x="355.9" y="306.9" font-size="10.4" fill="#222">10</text>
<line x1="364.3" y1="308.4" x2="355.8" y2="313.6" stroke="#444" stroke-width="0.9"/>
<rect x="62" y="331.3" width="333.6" height="31.9" fill="#fff" stroke="#444" stroke-width="0.9"/>
<line x1="95.63" y1="332" x2="95.63" y2="363" stroke="#cfcfcf" stroke-width="0.8" stroke-dasharray="1 3.3"/>
<line x1="128.96" y1="332" x2="128.96" y2="363" stroke="#cfcfcf" stroke-width="0.8" stroke-dasharray="1 3.3"/>
<line x1="162.29" y1="332" x2="162.29" y2="363" stroke="#cfcfcf" stroke-width="0.8" stroke-dasharray="1 3.3"/>
<line x1="195.62" y1="332" x2="195.62" y2="363" stroke="#cfcfcf" stroke-width="0.8" stroke-dasharray="1 3.3"/>
<line x1="228.95" y1="332" x2="228.95" y2="363" stroke="#cfcfcf" stroke-width="0.8" stroke-dasharray="1 3.3"/>
<line x1="262.28" y1="332" x2="262.28" y2="363" stroke="#cfcfcf" stroke-width="0.8" stroke-dasharray="1 3.3"/>
<line x1="295.61" y1="332" x2="295.61" y2="363" stroke="#cfcfcf" stroke-width="0.8" stroke-dasharray="1 3.3"/>
<line x1="328.94" y1="332" x2="328.94" y2="363" stroke="#cfcfcf" stroke-width="0.8" stroke-dasharray="1 3.3"/>
<line x1="362.27" y1="332" x2="362.27" y2="363" stroke="#cfcfcf" stroke-width="0.8" stroke-dasharray="1 3.3"/>
<text x="67.4" y="342.5" font-size="11" fill="#222">Cufflinks</text>
<line x1="180" y1="339.7" x2="322.8" y2="339.7" stroke="#666" stroke-width="0.7"/>
<line x1="180" y1="333.8" x2="180" y2="345.8" stroke="#555" stroke-width="0.8"/>
<rect x="222.4" y="333.6" width="17" height="12.3" fill="#c5c5c5" stroke="#8a8a8a" stroke-width="0.6"/>
<line x1="234.4" y1="333.6" x2="234.4" y2="345.9" stroke="#8a8a8a" stroke-width="0.6"/>
<rect x="248.1" y="333.6" width="10.5" height="12.3" fill="#c5c5c5" stroke="#8a8a8a" stroke-width="0.6"/>
<rect x="296.1" y="333.6" width="13.7" height="12.3" fill="#c5c5c5" stroke="#8a8a8a" stroke-width="0.6"/>
<line x1="307.3" y1="333.6" x2="307.3" y2="345.9" stroke="#8a8a8a" stroke-width="0.6"/>
<rect x="312.3" y="333.6" width="10.5" height="12.3" fill="#c5c5c5" stroke="#8a8a8a" stroke-width="0.6"/>
<rect x="103.1" y="348.6" width="219.7" height="11.6" fill="#c8c8c8" stroke="#909090" stroke-width="0.6"/>
<text x="215.1" y="356.8" font-size="6.8" font-weight="bold" text-anchor="middle" fill="#1a1a1a">chr14:83,712,431-83,778,185</text>
<rect x="62" y="367.5" width="333.6" height="47.5" fill="#fff" stroke="#444" stroke-width="0.9"/>
<line x1="95.63" y1="368" x2="95.63" y2="414.5" stroke="#cfcfcf" stroke-width="0.8" stroke-dasharray="1 3.3"/>
<line x1="128.96" y1="368" x2="128.96" y2="414.5" stroke="#cfcfcf" stroke-width="0.8" stroke-dasharray="1 3.3"/>
<line x1="162.29" y1="368" x2="162.29" y2="414.5" stroke="#cfcfcf" stroke-width="0.8" stroke-dasharray="1 3.3"/>
<line x1="195.62" y1="368" x2="195.62" y2="414.5" stroke="#cfcfcf" stroke-width="0.8" stroke-dasharray="1 3.3"/>
<line x1="228.95" y1="368" x2="228.95" y2="414.5" stroke="#cfcfcf" stroke-width="0.8" stroke-dasharray="1 3.3"/>
<line x1="262.28" y1="368" x2="262.28" y2="414.5" stroke="#cfcfcf" stroke-width="0.8" stroke-dasharray="1 3.3"/>
<line x1="295.61" y1="368" x2="295.61" y2="414.5" stroke="#cfcfcf" stroke-width="0.8" stroke-dasharray="1 3.3"/>
<line x1="328.94" y1="368" x2="328.94" y2="414.5" stroke="#cfcfcf" stroke-width="0.8" stroke-dasharray="1 3.3"/>
<line x1="362.27" y1="368" x2="362.27" y2="414.5" stroke="#cfcfcf" stroke-width="0.8" stroke-dasharray="1 3.3"/>
<path d="M62.4 414.5 L62.4 409.9 L103.5 409.9 L103.5 382.9 L136.8 382.9 L136.8 383.8 L147.6 383.8 L147.6 370.9 L153.6 370.9 L153.6 369.2 L179.9 369.2 L179.9 380.9 L213.5 380.9 L213.5 380 L223.2 380 L223.2 386.8 L239.9 386.8 L239.9 384.2 L248.6 384.2 L248.6 387.4 L296.1 387.4 L296.1 384.9 L306 384.9 L306.3 401.6 L308.5 400.4 L313.5 400.4 L313.5 402 L347 402 L347 404.3 L352.7 404.3 L352.7 413.6 L395.3 413.6 L395.3 414.5 Z" fill="#7b7fb5"/>
<line x1="180" y1="381" x2="180" y2="414" stroke="#a9acd2" stroke-width="0.5"/>
<line x1="223.3" y1="387" x2="223.3" y2="414" stroke="#a9acd2" stroke-width="0.5"/>
<text x="67.3" y="378" font-size="11.35" fill="#222">Cov.-Gaps</text>
<text x="56" y="373.2" font-size="5.8" text-anchor="end" fill="#111">4000</text>
<line x1="57.4" y1="371.2" x2="62" y2="371.2" stroke="#444" stroke-width="0.6"/>
<text x="56" y="387" font-size="5.8" text-anchor="end" fill="#111">2000</text>
<line x1="57.4" y1="385" x2="62" y2="385" stroke="#444" stroke-width="0.6"/>
<text x="56" y="401.3" font-size="5.8" text-anchor="end" fill="#111">1000</text>
<line x1="57.4" y1="399.3" x2="62" y2="399.3" stroke="#444" stroke-width="0.6"/>
<text x="56" y="415.3" font-size="5.8" text-anchor="end" fill="#111">0</text>
<line x1="57.4" y1="413.3" x2="62" y2="413.3" stroke="#444" stroke-width="0.6"/>
<line x1="59.4" y1="378.1" x2="62" y2="378.1" stroke="#444" stroke-width="0.5"/>
<line x1="59.4" y1="392.1" x2="62" y2="392.1" stroke="#444" stroke-width="0.5"/>
<line x1="59.4" y1="406.3" x2="62" y2="406.3" stroke="#444" stroke-width="0.5"/>
<text x="315.5" y="395.4" font-size="10.5" font-weight="bold" fill="#1a1a1a">Intron</text>
<line x1="314.6" y1="399.1" x2="345.4" y2="399.1" stroke="#333" stroke-width="0.5"/>
<path d="M313.6 399.1 L316.6 398.3 L316.6 399.9 Z" fill="#222"/>
<path d="M346.2 399.1 L343.2 398.3 L343.2 399.9 Z" fill="#222"/>
<rect x="62" y="418.6" width="333.6" height="47.5" fill="#fff" stroke="#444" stroke-width="0.9"/>
<line x1="95.63" y1="419.1" x2="95.63" y2="465.6" stroke="#cfcfcf" stroke-width="0.8" stroke-dasharray="1 3.3"/>
<line x1="128.96" y1="419.1" x2="128.96" y2="465.6" stroke="#cfcfcf" stroke-width="0.8" stroke-dasharray="1 3.3"/>
<line x1="162.29" y1="419.1" x2="162.29" y2="465.6" stroke="#cfcfcf" stroke-width="0.8" stroke-dasharray="1 3.3"/>
<line x1="195.62" y1="419.1" x2="195.62" y2="465.6" stroke="#cfcfcf" stroke-width="0.8" stroke-dasharray="1 3.3"/>
<line x1="228.95" y1="419.1" x2="228.95" y2="465.6" stroke="#cfcfcf" stroke-width="0.8" stroke-dasharray="1 3.3"/>
<line x1="262.28" y1="419.1" x2="262.28" y2="465.6" stroke="#cfcfcf" stroke-width="0.8" stroke-dasharray="1 3.3"/>
<line x1="295.61" y1="419.1" x2="295.61" y2="465.6" stroke="#cfcfcf" stroke-width="0.8" stroke-dasharray="1 3.3"/>
<line x1="328.94" y1="419.1" x2="328.94" y2="465.6" stroke="#cfcfcf" stroke-width="0.8" stroke-dasharray="1 3.3"/>
<line x1="362.27" y1="419.1" x2="362.27" y2="465.6" stroke="#cfcfcf" stroke-width="0.8" stroke-dasharray="1 3.3"/>
<path d="M62.5 464.4 L63 464.27 L63.9 464.34 L64.8 464.14 L65.7 464.37 L66.6 464.19 L67.5 464.25 L68.4 464.38 L69.3 464.2 L70.2 464.39 L71.1 464.23 L72 464.37 L72.9 464.36 L73.8 464.23 L74.7 464.07 L75.6 464.35 L76.5 464.31 L77.4 464.15 L78.3 464.02 L79.2 464.17 L80.1 464.24 L81 464.01 L81.9 464.38 L82.8 464.06 L83.7 464.28 L84.6 464.34 L85.5 464.35 L86.4 464.28 L87.3 464.07 L88.2 464.33 L89.1 464.17 L90 464.14 L90.9 464.25 L91.8 464.18 L92.7 464.37 L93.6 464.38 L94.5 464.32 L95.4 464.13 L96.3 464.23 L97.2 464.27 L98.1 464.17 L99 464.22 L99.9 464.28 L100.8 464.08 L101.7 464.12 L102.6 464.3 L102.8 463.4 L103.5 439 L103.5 462.68 L104.4 462.9 L104.4 462.76 L105.3 462.2 L106.2 462.43 L107.1 463.14 L108 462.03 L108.9 463.41 L109.8 462.93 L110.7 462.39 L111.6 463.36 L112.5 462.82 L113.4 463.54 L114.3 462.53 L115.2 462.38 L116.1 462.68 L117 462.2 L117.9 463.1 L118.8 462.49 L119.7 462.65 L120.6 462.67 L121.5 462.87 L122.4 462.26 L123.3 462.09 L124.2 462.84 L125.1 462.54 L126 463.5 L126.9 462.48 L127.8 462.56 L128.7 462.01 L129.6 462.28 L130.5 463.14 L131.4 462.98 L132.3 462.53 L133.2 463.56 L134.1 462.86 L135 463.33 L135.9 463.41 L136.8 463.51 L137.7 462.37 L138.6 463.39 L139.5 463.2 L140.4 461.27 L141.3 460.06 L142.2 460.87 L143.1 459.83 L144 459.22 L144.9 458.24 L145.8 457.89 L146.5 463.4 L146.7 457.37 L147.2 445.8 L147.6 463.15 L148.1 462.9 L148.5 462.94 L149.4 463.03 L150.3 462.19 L151.2 462.07 L152.1 463.36 L153 463.32 L153.9 463.23 L154.8 463.23 L155.7 462.82 L156.6 462.66 L157.5 463.18 L158.4 463.59 L159.3 462.93 L160.2 463.01 L161.1 462.69 L162 462.08 L162.9 462.5 L163.8 462.78 L164.7 462.61 L165.6 462.52 L166.5 463.51 L167.4 462.16 L168.3 462.35 L169.2 462.2 L170.1 462.32 L171 462.97 L171.9 462.96 L172.8 463.43 L173.7 462.59 L174.6 463.5 L175.5 463.49 L176.4 463.27 L177.3 463.34 L178.2 463.06 L179.1 463.52 L179.3 463.4 L180 420.4 L180 463.6 L180.9 462.9 L180.9 463.36 L181.8 463.44 L182.7 463.02 L183.6 462.56 L184.5 461.2 L185.4 461.62 L186.3 462.36 L187.2 462.2 L188.1 462.04 L189 462.02 L189.9 462.4 L190.8 461.24 L191.7 461.01 L192.6 461.85 L193.5 461.83 L194.4 462.46 L195.3 462.44 L196.2 462.05 L197.1 462.18 L198 461.27 L198.9 462.34 L199.8 462.56 L200.7 462.08 L201.6 462.75 L202.5 463.37 L203.4 462.73 L204.3 463.56 L205.2 462.76 L206.1 462.03 L207 462.22 L207.9 462.49 L208.8 463.18 L209.7 463.01 L210.6 463.33 L211.5 462.36 L212.4 462.75 L213.3 462.35 L214.2 463.07 L215.1 463.24 L216 462.3 L216.9 462.02 L217.8 462.24 L218.7 462.31 L219.6 462.29 L220.5 462.42 L221.4 463.24 L222.3 462.77 L222.5 463.4 L223.2 429.1 L223.2 463.03 L224.1 462.9 L224.1 463.55 L225 463.56 L225.9 463.15 L226.8 463.19 L227.7 462.49 L228.6 462.07 L229.5 462.88 L230.4 462.1 L231.3 462.02 L232.2 462.07 L233.1 463.02 L234 463.25 L234.9 463.24 L235.8 463.29 L236.7 463.27 L237.6 462.6 L238.5 462.16 L239.2 463.4 L239.4 462.26 L239.9 444.3 L240.3 462.83 L240.8 462.9 L241.2 462.56 L242.1 462.32 L243 463.46 L243.9 462.54 L244.8 462.14 L245.7 462.35 L246.6 462.4 L247.5 462.84 L247.8 463.4 L248.4 463.31 L248.5 445 L249.3 462.34 L249.4 462.9 L250.2 463.07 L251.1 462.32 L252 462.05 L252.9 462.97 L253.8 462.96 L254.7 462.09 L255.6 462.44 L256.5 463.33 L257.4 463.4 L258.3 463.36 L259.2 462.15 L260.1 462.31 L261 463.37 L261.9 462.28 L262.8 462.03 L263.7 462.55 L264.6 463.04 L265.5 462.72 L266.4 463.39 L267.3 463.58 L268.2 462.05 L269.1 462.56 L270 462.76 L270.9 462.11 L271.8 462.91 L272.7 462.21 L273.6 462.28 L274.5 463.26 L275.4 463.2 L276.3 463.13 L277.2 463.22 L278.1 462.66 L279 463.19 L279.9 462.93 L280.8 463.39 L281.7 462.14 L282.6 463.03 L283.5 462.87 L284.4 462.67 L285.3 462.15 L286.2 462.93 L287.1 462.13 L288 462.8 L288.9 462.75 L289.8 462.76 L290.7 463.57 L291.6 462.9 L292.5 463.31 L293.4 463.59 L294.3 462.32 L295.2 463.32 L295.9 463.4 L296.1 462.84 L296.6 446.8 L297 462.44 L297.5 462.9 L297.9 462.71 L298.8 463.08 L299.7 462.77 L300.6 462.71 L301.5 462.35 L302.4 463.43 L303.3 462.7 L304.2 463.2 L305.1 463.16 L305.6 462.4 L306 462.36 L306.2 446.5 L306.8 443.4 L306.9 462.79 L307.5 445 L307.8 462.7 L308.2 452 L308.7 462.38 L308.8 462.4 L309.6 462.14 L310.5 462.89 L311.4 462.62 L312.3 462.79 L312.7 463.4 L313.2 462.78 L313.4 456.6 L314.1 462.49 L314.3 462.9 L315 462.88 L315.9 462.75 L316.8 462.84 L317.7 462.09 L318.6 462.48 L319.5 462.2 L320.4 462.09 L321.3 463.18 L322.2 462.7 L323.1 462.09 L324 462.26 L324.9 463.38 L325.8 463.41 L326.7 462.89 L327.6 463.48 L328.5 463.21 L329.4 463.48 L330.3 462.53 L331.2 462.35 L332.1 462.16 L333 463.35 L333.9 462.45 L334.8 462.54 L335.7 463.37 L336.6 462.19 L337.5 462.05 L338.4 463.25 L339.3 462.08 L340.2 462.96 L341.1 462.82 L342 462.02 L342.9 462.27 L343.8 463.34 L344.7 462.91 L345.6 462.78 L346.5 463.06 L347.4 461.66 L348.3 461.59 L349.2 460.77 L350.1 461.91 L351 460.47 L351.9 460.14 L352.8 459.01 L353 452 L353.7 461.94 L354.6 460.71 L354.6 455 L355.5 462.03 L356 456.5 L356.4 459.75 L357.3 460.82 L358.2 460.17 L359.1 460.07 L360 462.51 L360.9 460.59 L361.8 460.24 L362.7 459.7 L363.6 460.44 L364.5 463.49 L365.4 464.05 L366.3 464.22 L367.2 464.26 L368.1 464.18 L369 464.03 L369.9 464.29 L370.8 464.35 L371.7 464.19 L372.6 464.3 L373.5 464.36 L374.4 464.34 L375.3 464.38 L376.2 464.32 L377.1 464.28 L378 464.28 L378.9 464.1 L379.8 464.28 L380.7 464.2 L381.6 464.33 L382.5 464.26 L383.4 464.39 L384.3 464.3 L385.2 464.39 L386.1 464.11 L387 464.18 L387.9 464.32 L388.8 464.21 L389.7 464.03 L390.6 464.36 L391.5 464.07 L392.4 464.23 L393.3 464.2 L394.2 464.07 L395.3 464.4 Z" fill="#ea7a7a" stroke="#df5555" stroke-width="0.6" stroke-linejoin="round"/>
<text x="67.1" y="431.7" font-size="11.35" fill="#222">Cov.-Nucleotides</text>
<text x="56" y="431.2" font-size="5.8" text-anchor="end" fill="#111">3000</text>
<line x1="57.4" y1="429.2" x2="62" y2="429.2" stroke="#444" stroke-width="0.6"/>
<text x="56" y="443.2" font-size="5.8" text-anchor="end" fill="#111">2000</text>
<line x1="57.4" y1="441.2" x2="62" y2="441.2" stroke="#444" stroke-width="0.6"/>
<text x="56" y="455.1" font-size="5.8" text-anchor="end" fill="#111">1000</text>
<line x1="57.4" y1="453.1" x2="62" y2="453.1" stroke="#444" stroke-width="0.6"/>
<text x="56" y="467" font-size="5.8" text-anchor="end" fill="#111">0</text>
<line x1="57.4" y1="465" x2="62" y2="465" stroke="#444" stroke-width="0.6"/>
<text x="228.7" y="432.3" font-size="10.7" font-weight="bold" fill="#1a1a1a">Exon</text>
<text x="285.6" y="433.3" font-size="10.7" font-weight="bold" fill="#1a1a1a">Exon</text>
<path d="M235.6 440.3 L240.4 437.1 L245.2 440.3 L240.4 443.5 Z" fill="#333"/>
<path d="M292 441.6 L296.8 438.4 L301.6 441.6 L296.8 444.8 Z" fill="#333"/>
<line x1="32.9" y1="400" x2="32.9" y2="530" stroke="#1a1a1a" stroke-width="0.9"/>
<path d="M32.9 367.2 L35.0 416.1 L30.8 416.1 Z" fill="#1a1a1a"/>
<path d="M32.9 560.5 L35.0 512.7 L30.8 512.7 Z" fill="#1a1a1a"/>
<text x="22" y="465" font-size="11.5" text-anchor="middle" fill="#1c1c1c" transform="rotate(-90 22 465)">ClinSeq AML (n=325)</text>
<rect x="61.6" y="472.2" width="334.2" height="87.4" fill="#0a0d0e"/>
<rect x="103.6" y="495" width="243.8" height="64.6" fill="url(#hmglow)"/>
<rect x="103.6" y="497" width="261" height="62.6" fill="url(#hmdots)" mask="url(#hmmask)"/>
<rect x="61.6" y="553.6" width="42" height="6" fill="url(#hmleft)" opacity="0.6"/>
<rect x="179.1" y="498" width="1.4" height="61.6" fill="url(#hmstreak)" opacity="0.8"/>
<rect x="147" y="520" width="1.2" height="39.6" fill="url(#hmstreak)" opacity="0.6"/>
<rect x="239.35" y="505" width="0.9" height="54.6" fill="url(#hmstreak)" opacity="0.4"/>
<rect x="305.6" y="496" width="2.4" height="63.6" fill="url(#hmstreak)" opacity="0.95"/>
<rect x="131.5" y="535" width="9" height="24.6" fill="url(#hmstreak)" opacity="0.28"/>
<rect x="269.65" y="520" width="0.7" height="39.6" fill="url(#hmstreak)" opacity="0.25"/>
<rect x="223.65" y="520" width="0.7" height="39.6" fill="url(#hmstreak)" opacity="0.25"/>
<rect x="194.65" y="525" width="0.7" height="34.6" fill="url(#hmstreak)" opacity="0.2"/>
<rect x="120.65" y="525" width="0.7" height="34.6" fill="url(#hmstreak)" opacity="0.2"/>
<rect x="347.4" y="522" width="16.8" height="37.6" fill="url(#hmblob)" opacity="0.8"/>
<rect x="183" y="528" width="38" height="30" fill="#090b0d" opacity="0.35"/>
<rect x="317" y="528" width="30" height="30" fill="#090b0d" opacity="0.4"/>
<rect x="262" y="528" width="34" height="30" fill="#090b0d" opacity="0.2"/>
<rect x="127" y="546" width="21" height="13.6" fill="url(#hmblob)" opacity="0.5"/>
<rect x="104" y="546" width="23" height="13.6" fill="url(#hmblob)" opacity="0.25"/>
<rect x="296" y="546" width="22" height="13.6" fill="url(#hmblob)" opacity="0.45"/>
<rect x="221" y="546" width="41" height="13.6" fill="url(#hmblob)" opacity="0.18"/>
<rect x="103.6" y="536" width="261" height="23.6" fill="url(#hmstripes)"/>
<text x="68" y="484.1" font-size="12.3" fill="#ffffff">Heatmap</text>
<rect x="61.7" y="567.4" width="333.5" height="63.6" fill="#fff" stroke="#222" stroke-width="1.15"/>
<line x1="95.63" y1="568.4" x2="95.63" y2="630" stroke="#c4c4c4" stroke-width="0.8" stroke-dasharray="1 3.3"/>
<line x1="128.96" y1="568.4" x2="128.96" y2="630" stroke="#c4c4c4" stroke-width="0.8" stroke-dasharray="1 3.3"/>
<line x1="162.29" y1="568.4" x2="162.29" y2="630" stroke="#c4c4c4" stroke-width="0.8" stroke-dasharray="1 3.3"/>
<line x1="195.62" y1="568.4" x2="195.62" y2="630" stroke="#c4c4c4" stroke-width="0.8" stroke-dasharray="1 3.3"/>
<line x1="228.95" y1="568.4" x2="228.95" y2="630" stroke="#c4c4c4" stroke-width="0.8" stroke-dasharray="1 3.3"/>
<line x1="262.28" y1="568.4" x2="262.28" y2="630" stroke="#c4c4c4" stroke-width="0.8" stroke-dasharray="1 3.3"/>
<line x1="295.61" y1="568.4" x2="295.61" y2="630" stroke="#c4c4c4" stroke-width="0.8" stroke-dasharray="1 3.3"/>
<line x1="328.94" y1="568.4" x2="328.94" y2="630" stroke="#c4c4c4" stroke-width="0.8" stroke-dasharray="1 3.3"/>
<line x1="362.27" y1="568.4" x2="362.27" y2="630" stroke="#c4c4c4" stroke-width="0.8" stroke-dasharray="1 3.3"/>
<line x1="98.7" y1="586.8" x2="379.7" y2="586.9" stroke="#c9c7c5" stroke-width="0.9"/>
<text x="63.7" y="587.2" font-size="4.65" fill="#222">Isoform Ex1.0</text>
<rect x="99.9" y="581.3" width="3" height="8.6" fill="#0f4c75" rx="0.6"/>
<rect x="139.4" y="581.3" width="3" height="8.6" fill="#0f4c75" rx="0.6"/>
<rect x="144.5" y="581.3" width="3" height="8.6" fill="#0f4c75" rx="0.6"/>
<rect x="177.9" y="581.3" width="3.1" height="8.6" fill="#0f4c75" rx="0.6"/>
<rect x="221.5" y="581.3" width="4.4" height="8.6" fill="#0f4c75" rx="0.6"/>
<rect x="238.4" y="581.3" width="2.6" height="8.6" fill="#0f4c75" rx="0.6"/>
<rect x="247.9" y="581.3" width="2.5" height="8.6" fill="#0f4c75" rx="0.6"/>
<rect x="296.2" y="581.3" width="2.1" height="8.6" fill="#0f4c75" rx="0.6"/>
<rect x="307.2" y="581.3" width="5.2" height="8.6" fill="#0f4c75" rx="0.6"/>
<rect x="313.8" y="581.3" width="2.1" height="8.6" fill="#0f4c75" rx="0.6"/>
<rect x="341.9" y="581.3" width="2.1" height="8.6" fill="#0f4c75" rx="0.6"/>
<rect x="346.9" y="581.3" width="13.7" height="8.6" fill="#0f4c75" rx="0.6"/>
<line x1="97.4" y1="597.1" x2="379.7" y2="597.2" stroke="#c9c7c5" stroke-width="0.9"/>
<text x="63.7" y="597.5" font-size="4.65" fill="#222">Isoform Ex1.1</text>
<rect x="139.4" y="591.6" width="3" height="8.6" fill="#0f4c75" rx="0.6"/>
<rect x="177.9" y="591.6" width="3.1" height="8.6" fill="#0f4c75" rx="0.6"/>
<rect x="221.5" y="591.6" width="4.4" height="8.6" fill="#0f4c75" rx="0.6"/>
<rect x="238.4" y="591.6" width="2.6" height="8.6" fill="#0f4c75" rx="0.6"/>
<rect x="247.9" y="591.6" width="2.5" height="8.6" fill="#0f4c75" rx="0.6"/>
<rect x="296.2" y="591.6" width="2.1" height="8.6" fill="#0f4c75" rx="0.6"/>
<rect x="307.2" y="591.6" width="5.2" height="8.6" fill="#0f4c75" rx="0.6"/>
<rect x="313.8" y="591.6" width="2.1" height="8.6" fill="#0f4c75" rx="0.6"/>
<rect x="341.9" y="591.6" width="2.1" height="8.6" fill="#0f4c75" rx="0.6"/>
<rect x="346.9" y="591.6" width="13.7" height="8.6" fill="#0f4c75" rx="0.6"/>
<line x1="97.4" y1="606.9" x2="379.7" y2="607" stroke="#c9c7c5" stroke-width="0.9"/>
<text x="63.7" y="607.3" font-size="4.65" fill="#222">Isoform Ex1.2</text>
<rect x="144.5" y="601.4" width="3" height="8.6" fill="#0f4c75" rx="0.6"/>
<rect x="213" y="601.4" width="3.3" height="8.6" fill="#0f4c75" rx="0.6"/>
<rect x="177.9" y="601.4" width="3.1" height="8.6" fill="#0f4c75" rx="0.6"/>
<rect x="221.5" y="601.4" width="4.4" height="8.6" fill="#0f4c75" rx="0.6"/>
<rect x="238.4" y="601.4" width="2.6" height="8.6" fill="#0f4c75" rx="0.6"/>
<rect x="247.9" y="601.4" width="2.5" height="8.6" fill="#0f4c75" rx="0.6"/>
<rect x="296.2" y="601.4" width="2.1" height="8.6" fill="#0f4c75" rx="0.6"/>
<rect x="307.2" y="601.4" width="5.2" height="8.6" fill="#0f4c75" rx="0.6"/>
<rect x="313.8" y="601.4" width="2.1" height="8.6" fill="#0f4c75" rx="0.6"/>
<rect x="341.9" y="601.4" width="2.1" height="8.6" fill="#0f4c75" rx="0.6"/>
<rect x="346.9" y="601.4" width="13.7" height="8.6" fill="#0f4c75" rx="0.6"/>
<text x="102.3" y="620" font-size="6" font-weight="bold" text-anchor="middle" fill="#222" stroke="#222" stroke-width="0.12">1.0</text>
<text x="139.4" y="620" font-size="6" font-weight="bold" text-anchor="middle" fill="#222" stroke="#222" stroke-width="0.12">1.1</text>
<text x="151" y="620" font-size="6" font-weight="bold" text-anchor="middle" fill="#222" stroke="#222" stroke-width="0.12">1.2</text>
<text x="180" y="620" font-size="6" font-weight="bold" text-anchor="middle" fill="#222" stroke="#222" stroke-width="0.12">2</text>
<text x="213.4" y="620" font-size="6" font-weight="bold" text-anchor="middle" fill="#222" stroke="#222" stroke-width="0.12">2.2</text>
<text x="224.3" y="620" font-size="6" font-weight="bold" text-anchor="middle" fill="#222" stroke="#222" stroke-width="0.12">3</text>
<text x="239" y="620" font-size="6" font-weight="bold" text-anchor="middle" fill="#222" stroke="#222" stroke-width="0.12">4</text>
<text x="250.5" y="620" font-size="6" font-weight="bold" text-anchor="middle" fill="#222" stroke="#222" stroke-width="0.12">5</text>
<text x="297.9" y="620" font-size="6" font-weight="bold" text-anchor="middle" fill="#222" stroke="#222" stroke-width="0.12">6</text>
<text x="309" y="620" font-size="6" font-weight="bold" text-anchor="middle" fill="#222" stroke="#222" stroke-width="0.12">7</text>
<text x="314.9" y="620" font-size="6" font-weight="bold" text-anchor="middle" fill="#222" stroke="#222" stroke-width="0.12">8</text>
<text x="343.2" y="620" font-size="6" font-weight="bold" text-anchor="middle" fill="#222" stroke="#222" stroke-width="0.12">9</text>
<text x="353.8" y="620" font-size="6" font-weight="bold" text-anchor="middle" fill="#222" stroke="#222" stroke-width="0.12">10</text>
<rect x="61.7" y="636.3" width="333.5" height="87.3" fill="#fff" stroke="#222" stroke-width="1.15"/>
<line x1="95.63" y1="637.3" x2="95.63" y2="722.6" stroke="#c4c4c4" stroke-width="0.8" stroke-dasharray="1 3.3"/>
<line x1="128.96" y1="637.3" x2="128.96" y2="722.6" stroke="#c4c4c4" stroke-width="0.8" stroke-dasharray="1 3.3"/>
<line x1="162.29" y1="637.3" x2="162.29" y2="722.6" stroke="#c4c4c4" stroke-width="0.8" stroke-dasharray="1 3.3"/>
<line x1="195.62" y1="637.3" x2="195.62" y2="722.6" stroke="#c4c4c4" stroke-width="0.8" stroke-dasharray="1 3.3"/>
<line x1="228.95" y1="637.3" x2="228.95" y2="722.6" stroke="#c4c4c4" stroke-width="0.8" stroke-dasharray="1 3.3"/>
<line x1="262.28" y1="637.3" x2="262.28" y2="722.6" stroke="#c4c4c4" stroke-width="0.8" stroke-dasharray="1 3.3"/>
<line x1="295.61" y1="637.3" x2="295.61" y2="722.6" stroke="#c4c4c4" stroke-width="0.8" stroke-dasharray="1 3.3"/>
<line x1="328.94" y1="637.3" x2="328.94" y2="722.6" stroke="#c4c4c4" stroke-width="0.8" stroke-dasharray="1 3.3"/>
<line x1="362.27" y1="637.3" x2="362.27" y2="722.6" stroke="#c4c4c4" stroke-width="0.8" stroke-dasharray="1 3.3"/>
<line x1="97.9" y1="684.2" x2="379.6" y2="684.2" stroke="#b5b5b5" stroke-width="0.8"/>
<path d="M226 684.2 C226 646.3 296.5 646.3 296.5 684.2" fill="none" stroke="#7a3f9a" stroke-width="0.75"/>
<path d="M226 684.2 C226 657.07 248.2 657.07 248.2 684.2" fill="none" stroke="#d8424a" stroke-width="0.75"/>
<path d="M226 684.2 C226 725.96 248.2 725.96 248.2 684.2" fill="none" stroke="#d8424a" stroke-width="0.75"/>
<path d="M226.5 684.2 C226.5 710.8 238.5 710.8 238.5 684.2" fill="none" stroke="#d0457a" stroke-width="0.65"/>
<path d="M250.5 684.2 C250.5 656.27 296.5 656.27 296.5 684.2" fill="none" stroke="#d0457a" stroke-width="0.75"/>
<path d="M250.5 684.2 C250.5 717.18 296.5 717.18 296.5 684.2" fill="none" stroke="#d0457a" stroke-width="0.75"/>
<path d="M250.5 684.2 C250.5 666.91 296.5 666.91 296.5 684.2" fill="none" stroke="#2d4f8f" stroke-width="0.75"/>
<path d="M250.5 684.2 C250.5 701.22 296.5 701.22 296.5 684.2" fill="none" stroke="#2d4f8f" stroke-width="0.75"/>
<path d="M226 684.2 C226 667.71 238.8 667.71 238.8 684.2" fill="none" stroke="#2d4f8f" stroke-width="0.75"/>
<path d="M226 684.2 C226 699.76 238.8 699.76 238.8 684.2" fill="none" stroke="#2d4f8f" stroke-width="0.75"/>
<path d="M241.5 684.2 C241.5 667.31 248.2 667.31 248.2 684.2" fill="none" stroke="#2d4f8f" stroke-width="0.75"/>
<path d="M241.5 684.2 C241.5 699.76 248.2 699.76 248.2 684.2" fill="none" stroke="#2d4f8f" stroke-width="0.75"/>
<path d="M241.5 684.2 C241.5 705.48 248.2 705.48 248.2 684.2" fill="none" stroke="#7a3f9a" stroke-width="0.65"/>
<path d="M298.5 684.2 C298.5 646.3 307.6 646.3 307.6 684.2" fill="none" stroke="#7a3f9a" stroke-width="0.75"/>
<path d="M298.5 684.2 C298.5 657.07 307.6 657.07 307.6 684.2" fill="none" stroke="#d0457a" stroke-width="0.65"/>
<path d="M298.5 684.2 C298.5 667.31 307.6 667.31 307.6 684.2" fill="none" stroke="#2d4f8f" stroke-width="0.65"/>
<path d="M298 684.2 C298 698.83 315 698.83 315 684.2" fill="none" stroke="#2d4f8f" stroke-width="0.65"/>
<path d="M315.6 684.2 C315.6 700.69 346.2 700.69 346.2 684.2" fill="none" stroke="#2d4f8f" stroke-width="0.65"/>
<path d="M298 684.2 C298 717.18 346.8 717.18 346.8 684.2" fill="none" stroke="#d0457a" stroke-width="0.65"/>
<path d="M226 685.2 C240 704.2 318 714.2 346.6 686.2" fill="none" stroke="#222" stroke-width="0.85"/>
<path d="M226 685.2 C242 706.2 318 718.2 346.8 686.2" fill="none" stroke="#7a3f9a" stroke-width="0.65"/>
<path d="M226 685.2 C233 728.2 315 734.2 347 686.2" fill="none" stroke="#1f3a7a" stroke-width="0.85"/>
<path d="M241.5 685.2 C255 716.2 322 736.2 347.2 686.2" fill="none" stroke="#d8424a" stroke-width="0.75"/>
<path d="M250.5 685.2 C262 710.2 325 728.2 346.4 686.2" fill="none" stroke="#d0457a" stroke-width="0.65"/>
<path d="M346 688.2 C344.4 698.2 344.6 717.2 345.4 717.2 C346.2 717.2 347.9 698.2 347.3 688.2" fill="none" stroke="#1f3a7a" stroke-width="0.75"/>
<rect x="100.4" y="680" width="2.5" height="8.4" fill="#0d2a4a" rx="0.4"/>
<rect x="139.4" y="680" width="3" height="8.4" fill="#0d2a4a" rx="0.4"/>
<rect x="144.5" y="680" width="3" height="8.4" fill="#0d2a4a" rx="0.4"/>
<rect x="177.9" y="680" width="3.1" height="8.4" fill="#0d2a4a" rx="0.4"/>
<rect x="213" y="680" width="3.3" height="8.4" fill="#0d2a4a" rx="0.4"/>
<rect x="221.5" y="680" width="4.4" height="8.4" fill="#0d2a4a" rx="0.4"/>
<rect x="238.4" y="680" width="2.6" height="8.4" fill="#0d2a4a" rx="0.4"/>
<rect x="247.9" y="680" width="2.5" height="8.4" fill="#0d2a4a" rx="0.4"/>
<rect x="296.2" y="680" width="2.1" height="8.4" fill="#0d2a4a" rx="0.4"/>
<rect x="307.2" y="680" width="5.2" height="8.4" fill="#0d2a4a" rx="0.4"/>
<rect x="313.8" y="680" width="2.1" height="8.4" fill="#0d2a4a" rx="0.4"/>
<rect x="341.9" y="680" width="2.1" height="8.4" fill="#0d2a4a" rx="0.4"/>
<rect x="346.9" y="680" width="13.7" height="8.4" fill="#0d2a4a" rx="0.4"/>
<text x="298" y="650.3" font-size="8.8" font-weight="bold" font-style="italic" fill="#1a1a1a">Splice-variants Ex3-7</text>
<text x="129.1" y="717.9" font-size="8.8" font-weight="bold" font-style="italic" fill="#1a1a1a">Splice-variants Ex3-10</text>
</g>
<!-- Panel D -->
<g>
<text x="444.85" y="239.5" font-size="16.5" font-weight="bold" fill="#111">D</text>
<line x1="522.75" y1="265.95" x2="522.75" y2="414.9" stroke="#000" stroke-width="1.5"/>
<line x1="522.1" y1="414.25" x2="657" y2="414.25" stroke="#000" stroke-width="1.5"/>
<line x1="516.35" y1="414.25" x2="522.75" y2="414.25" stroke="#000" stroke-width="1.5"/>
<text x="514.2" y="418.25" font-size="10.6" font-weight="bold" text-anchor="end" fill="#151515" stroke="#151515" stroke-width="0.3">-1</text>
<line x1="516.35" y1="393.16" x2="522.75" y2="393.16" stroke="#000" stroke-width="1.5"/>
<text x="514.2" y="397.16" font-size="10.6" font-weight="bold" text-anchor="end" fill="#151515" stroke="#151515" stroke-width="0.3">0</text>
<line x1="516.35" y1="372.06" x2="522.75" y2="372.06" stroke="#000" stroke-width="1.5"/>
<text x="514.2" y="376.06" font-size="10.6" font-weight="bold" text-anchor="end" fill="#151515" stroke="#151515" stroke-width="0.3">1</text>
<line x1="516.35" y1="350.97" x2="522.75" y2="350.97" stroke="#000" stroke-width="1.5"/>
<text x="514.2" y="354.97" font-size="10.6" font-weight="bold" text-anchor="end" fill="#151515" stroke="#151515" stroke-width="0.3">2</text>
<line x1="516.35" y1="329.88" x2="522.75" y2="329.88" stroke="#000" stroke-width="1.5"/>
<text x="514.2" y="333.88" font-size="10.6" font-weight="bold" text-anchor="end" fill="#151515" stroke="#151515" stroke-width="0.3">3</text>
<line x1="516.35" y1="308.79" x2="522.75" y2="308.79" stroke="#000" stroke-width="1.5"/>
<text x="514.2" y="312.79" font-size="10.6" font-weight="bold" text-anchor="end" fill="#151515" stroke="#151515" stroke-width="0.3">4</text>
<line x1="516.35" y1="287.69" x2="522.75" y2="287.69" stroke="#000" stroke-width="1.5"/>
<text x="514.2" y="291.69" font-size="10.6" font-weight="bold" text-anchor="end" fill="#151515" stroke="#151515" stroke-width="0.3">5</text>
<line x1="516.35" y1="266.6" x2="522.75" y2="266.6" stroke="#000" stroke-width="1.5"/>
<text x="514.2" y="270.6" font-size="10.6" font-weight="bold" text-anchor="end" fill="#151515" stroke="#151515" stroke-width="0.3">6</text>
<line x1="549.5" y1="414.25" x2="549.5" y2="420.45" stroke="#000" stroke-width="1.5"/>
<line x1="589.5" y1="414.25" x2="589.5" y2="420.45" stroke="#000" stroke-width="1.5"/>
<line x1="629.5" y1="414.25" x2="629.5" y2="420.45" stroke="#000" stroke-width="1.5"/>
<text x="481.3" y="337.9" font-size="12" font-weight="bold" text-anchor="middle" fill="#151515" transform="rotate(-90 481.3 337.9)" stroke="#151515" stroke-width="0.35">MALNC</text>
<text x="495.5" y="337.2" font-size="11.85" font-weight="bold" text-anchor="middle" fill="#151515" transform="rotate(-90 495.5 337.2)" stroke="#151515" stroke-width="0.35">log2(CPM+1)</text>
<line x1="549.5" y1="320.3" x2="549.5" y2="379" stroke="#0a0a0a" stroke-width="1.7"/>
<line x1="549.5" y1="393.5" x2="549.5" y2="393.5" stroke="#0a0a0a" stroke-width="1.7"/>
<line x1="542.3" y1="320.3" x2="556.7" y2="320.3" stroke="#0a0a0a" stroke-width="1.7"/>
<line x1="542.3" y1="393.5" x2="556.7" y2="393.5" stroke="#0a0a0a" stroke-width="1.7"/>
<rect x="536.9" y="379" width="25.2" height="14.5" fill="#8a8888" stroke="#0a0a0a" stroke-width="1.7"/>
<line x1="536.9" y1="392.7" x2="562.1" y2="392.7" stroke="#0a0a0a" stroke-width="1.7"/>
<line x1="589.5" y1="347" x2="589.5" y2="383.6" stroke="#144a5c" stroke-width="1.7"/>
<line x1="589.5" y1="390.3" x2="589.5" y2="392.7" stroke="#144a5c" stroke-width="1.7"/>
<line x1="582.3" y1="347" x2="596.7" y2="347" stroke="#144a5c" stroke-width="1.7"/>
<line x1="582.3" y1="392.7" x2="596.7" y2="392.7" stroke="#144a5c" stroke-width="1.7"/>
<rect x="576.9" y="383.6" width="25.2" height="6.7" fill="#90a9cb" stroke="#144a5c" stroke-width="1.7"/>
<line x1="576.9" y1="388.6" x2="602.1" y2="388.6" stroke="#144a5c" stroke-width="1.7"/>
<line x1="629.5" y1="360" x2="629.5" y2="385.9" stroke="#8f6f2c" stroke-width="1.6"/>
<line x1="629.5" y1="393.4" x2="629.5" y2="393.4" stroke="#8f6f2c" stroke-width="1.6"/>
<line x1="622.3" y1="360" x2="636.7" y2="360" stroke="#8f6f2c" stroke-width="1.6"/>
<line x1="622.3" y1="393.4" x2="636.7" y2="393.4" stroke="#8f6f2c" stroke-width="1.6"/>
<rect x="616.9" y="385.9" width="25.2" height="7.5" fill="#fbe9a0" stroke="#8f6f2c" stroke-width="1.6"/>
<line x1="616.9" y1="392.7" x2="642.1" y2="392.7" stroke="#8f6f2c" stroke-width="1.6"/>
<path d="M549.5 293.8 V270.4 H629.5 V293.8" fill="none" stroke="#000" stroke-width="1"/>
<text transform="translate(589.6 274.2) scale(1 1.1)" font-size="23" font-weight="bold" text-anchor="middle" fill="#000">***</text>
<path d="M549.5 311.3 V302.6 H586.4 V338.4" fill="none" stroke="#000" stroke-width="1"/>
<path d="M592.6 338.4 V302.6 H629.5 V350.3" fill="none" stroke="#000" stroke-width="1"/>
<text x="568.1" y="294.5" font-size="11.8" text-anchor="middle" fill="#111" stroke="#111" stroke-width="0.2">ns</text>
<text x="611" y="294.5" font-size="11.8" text-anchor="middle" fill="#111" stroke="#111" stroke-width="0.2">ns</text>
<text x="553.3" y="429.45" font-size="11.7" font-weight="bold" text-anchor="end" fill="#151515" transform="rotate(-45 553.3 429.45)" stroke="#151515" stroke-width="0.35">Exon 1.0</text>
<text x="593.3" y="429.45" font-size="11.7" font-weight="bold" text-anchor="end" fill="#151515" transform="rotate(-45 593.3 429.45)" stroke="#151515" stroke-width="0.35">Exon 1.1</text>
<text x="633.3" y="429.45" font-size="11.7" font-weight="bold" text-anchor="end" fill="#151515" transform="rotate(-45 633.3 429.45)" stroke="#151515" stroke-width="0.35">Exon 1.2</text>
</g>
<!-- Panel E -->
<g>
<text x="445.7" y="489.5" font-size="16.5" font-weight="bold" fill="#111">E</text>
<line x1="539.75" y1="507.25" x2="539.75" y2="656.1" stroke="#000" stroke-width="1.5"/>
<line x1="539.1" y1="655.45" x2="637.4" y2="655.45" stroke="#000" stroke-width="1.5"/>
<line x1="533.25" y1="655.45" x2="539.75" y2="655.45" stroke="#000" stroke-width="1.5"/>
<text x="530.1" y="659.45" font-size="10.6" font-weight="bold" text-anchor="end" fill="#151515" stroke="#151515" stroke-width="0.3">-1</text>
<line x1="533.25" y1="618.56" x2="539.75" y2="618.56" stroke="#000" stroke-width="1.5"/>
<text x="530.1" y="622.56" font-size="10.6" font-weight="bold" text-anchor="end" fill="#151515" stroke="#151515" stroke-width="0.3">0</text>
<line x1="533.25" y1="581.67" x2="539.75" y2="581.67" stroke="#000" stroke-width="1.5"/>
<text x="530.1" y="585.67" font-size="10.6" font-weight="bold" text-anchor="end" fill="#151515" stroke="#151515" stroke-width="0.3">1</text>
<line x1="533.25" y1="544.79" x2="539.75" y2="544.79" stroke="#000" stroke-width="1.5"/>
<text x="530.1" y="548.79" font-size="10.6" font-weight="bold" text-anchor="end" fill="#151515" stroke="#151515" stroke-width="0.3">2</text>
<line x1="533.25" y1="507.9" x2="539.75" y2="507.9" stroke="#000" stroke-width="1.5"/>
<text x="530.1" y="511.9" font-size="10.6" font-weight="bold" text-anchor="end" fill="#151515" stroke="#151515" stroke-width="0.3">3</text>
<line x1="567.8" y1="655.45" x2="567.8" y2="661.65" stroke="#000" stroke-width="1.5"/>
<line x1="610" y1="655.45" x2="610" y2="661.65" stroke="#000" stroke-width="1.5"/>
<text x="498.5" y="580.6" font-size="12" font-weight="bold" text-anchor="middle" fill="#151515" transform="rotate(-90 498.5 580.6)" stroke="#151515" stroke-width="0.35">MALNC</text>
<text x="512.9" y="580.1" font-size="11.85" font-weight="bold" text-anchor="middle" fill="#151515" transform="rotate(-90 512.9 580.1)" stroke="#151515" stroke-width="0.35">log2(CPM+1)</text>
<line x1="567.8" y1="541.3" x2="567.8" y2="576.6" stroke="#0a0a0a" stroke-width="1.8"/>
<line x1="567.8" y1="613.7" x2="567.8" y2="618.9" stroke="#0a0a0a" stroke-width="1.8"/>
<line x1="560" y1="541.3" x2="575.6" y2="541.3" stroke="#0a0a0a" stroke-width="1.8"/>
<line x1="560" y1="618.9" x2="575.6" y2="618.9" stroke="#0a0a0a" stroke-width="1.8"/>
<rect x="554.6" y="576.6" width="26.4" height="37.1" fill="#8a8888" stroke="#0a0a0a" stroke-width="1.8"/>
<line x1="554.6" y1="606.4" x2="581" y2="606.4" stroke="#0a0a0a" stroke-width="1.8"/>
<line x1="610" y1="564.3" x2="610" y2="595.2" stroke="#144a5c" stroke-width="1.8"/>
<line x1="610" y1="616.5" x2="610" y2="618.9" stroke="#144a5c" stroke-width="1.8"/>
<line x1="602.2" y1="564.3" x2="617.8" y2="564.3" stroke="#144a5c" stroke-width="1.8"/>
<line x1="602.2" y1="618.9" x2="617.8" y2="618.9" stroke="#144a5c" stroke-width="1.8"/>
<rect x="597" y="595.2" width="26" height="21.3" fill="#90a9cb" stroke="#144a5c" stroke-width="1.8"/>
<line x1="597" y1="612" x2="623" y2="612" stroke="#144a5c" stroke-width="1.8"/>
<path d="M567.8 532.1 V523.1 H610 V555.5" fill="none" stroke="#000" stroke-width="1"/>
<text transform="translate(589.1 526.7) scale(1 1.1)" font-size="23" font-weight="bold" text-anchor="middle" fill="#000">**</text>
<text x="571.6" y="670.65" font-size="11.7" font-weight="bold" text-anchor="end" fill="#151515" transform="rotate(-45 571.6 670.65)" stroke="#151515" stroke-width="0.35">Exon 7</text>
<text x="613.8" y="670.65" font-size="11.7" font-weight="bold" text-anchor="end" fill="#151515" transform="rotate(-45 613.8 670.65)" stroke="#151515" stroke-width="0.35">Exon 10</text>
</g>
<!-- Panel F -->
<g>
<text x="24.85" y="760.3" font-size="16.5" font-weight="bold" fill="#111">F</text>
<text x="100.3" y="763" font-size="12.77" font-weight="bold" fill="#1a1a1a">MALNC <tspan font-style="italic">locus of Ex 1.1 and 1.2</tspan></text>
<text x="99.4" y="777" font-size="12.75" font-style="italic" fill="#222">GRChr37; chr14:83,724,350-83,727,613</text>
<rect x="98.6" y="780.7" width="228.7" height="4.6" fill="#ececec" stroke="#8a8a8a" stroke-width="0.5" rx="2.3"/>
<rect x="151" y="781" width="18.3" height="4" fill="#111"/>
<rect x="173.5" y="781" width="4.3" height="4" fill="#9a9a9a"/>
<rect x="179.8" y="781" width="11.4" height="4" fill="#111"/>
<rect x="192.5" y="781" width="5" height="4" fill="#cfcfcf"/>
<rect x="199.5" y="781" width="7.5" height="4" fill="#111"/>
<rect x="213.7" y="781" width="3.7" height="4" fill="#c4c4c4"/>
<rect x="222.4" y="781" width="8.3" height="4" fill="#555"/>
<rect x="236.9" y="781" width="6" height="4" fill="#8a8a8a"/>
<rect x="247.9" y="781" width="7.7" height="4" fill="#7a7a7a"/>
<rect x="267.4" y="781" width="8.7" height="4" fill="#111"/>
<rect x="276.1" y="781" width="1.8" height="4" fill="#c8102e"/>
<rect x="279.9" y="781" width="9.9" height="4" fill="#111"/>
<rect x="294.8" y="781" width="5" height="4" fill="#c9c9c9"/>
<rect x="304.1" y="781" width="9.5" height="4" fill="#8a8a8a"/>
<rect x="317.3" y="781" width="5" height="4" fill="#d0d0d0"/>
<path d="M132.8 781 L135.7 783 L132.8 785 Z M138.6 781 L135.7 783 L138.6 785 Z" fill="#c8102e"/>
<line x1="98.6" y1="798.7" x2="327" y2="798.7" stroke="#808080" stroke-width="0.6"/>
<line x1="98.8" y1="798.7" x2="98.8" y2="796.2" stroke="#9a9a9a" stroke-width="0.4"/>
<line x1="107.58" y1="798.7" x2="107.58" y2="797.2" stroke="#9a9a9a" stroke-width="0.4"/>
<line x1="116.36" y1="798.7" x2="116.36" y2="797.2" stroke="#9a9a9a" stroke-width="0.4"/>
<line x1="125.14" y1="798.7" x2="125.14" y2="797.2" stroke="#9a9a9a" stroke-width="0.4"/>
<line x1="133.92" y1="798.7" x2="133.92" y2="796.2" stroke="#9a9a9a" stroke-width="0.4"/>
<line x1="142.7" y1="798.7" x2="142.7" y2="797.2" stroke="#9a9a9a" stroke-width="0.4"/>
<line x1="151.48" y1="798.7" x2="151.48" y2="797.2" stroke="#9a9a9a" stroke-width="0.4"/>
<line x1="160.26" y1="798.7" x2="160.26" y2="797.2" stroke="#9a9a9a" stroke-width="0.4"/>
<line x1="169.04" y1="798.7" x2="169.04" y2="796.2" stroke="#9a9a9a" stroke-width="0.4"/>
<line x1="177.82" y1="798.7" x2="177.82" y2="797.2" stroke="#9a9a9a" stroke-width="0.4"/>
<line x1="186.6" y1="798.7" x2="186.6" y2="797.2" stroke="#9a9a9a" stroke-width="0.4"/>
<line x1="195.38" y1="798.7" x2="195.38" y2="797.2" stroke="#9a9a9a" stroke-width="0.4"/>
<line x1="204.16" y1="798.7" x2="204.16" y2="796.2" stroke="#9a9a9a" stroke-width="0.4"/>
<line x1="212.94" y1="798.7" x2="212.94" y2="797.2" stroke="#9a9a9a" stroke-width="0.4"/>
<line x1="221.72" y1="798.7" x2="221.72" y2="797.2" stroke="#9a9a9a" stroke-width="0.4"/>
<line x1="230.5" y1="798.7" x2="230.5" y2="797.2" stroke="#9a9a9a" stroke-width="0.4"/>
<line x1="239.28" y1="798.7" x2="239.28" y2="796.2" stroke="#9a9a9a" stroke-width="0.4"/>
<line x1="248.06" y1="798.7" x2="248.06" y2="797.2" stroke="#9a9a9a" stroke-width="0.4"/>
<line x1="256.84" y1="798.7" x2="256.84" y2="797.2" stroke="#9a9a9a" stroke-width="0.4"/>
<line x1="265.62" y1="798.7" x2="265.62" y2="797.2" stroke="#9a9a9a" stroke-width="0.4"/>
<line x1="274.4" y1="798.7" x2="274.4" y2="796.2" stroke="#9a9a9a" stroke-width="0.4"/>
<line x1="283.18" y1="798.7" x2="283.18" y2="797.2" stroke="#9a9a9a" stroke-width="0.4"/>
<line x1="291.96" y1="798.7" x2="291.96" y2="797.2" stroke="#9a9a9a" stroke-width="0.4"/>
<line x1="300.74" y1="798.7" x2="300.74" y2="797.2" stroke="#9a9a9a" stroke-width="0.4"/>
<line x1="309.52" y1="798.7" x2="309.52" y2="796.2" stroke="#9a9a9a" stroke-width="0.4"/>
<line x1="318.3" y1="798.7" x2="318.3" y2="797.2" stroke="#9a9a9a" stroke-width="0.4"/>
<line x1="327.08" y1="798.7" x2="327.08" y2="797.2" stroke="#9a9a9a" stroke-width="0.4"/>
<text x="101.5" y="796.2" font-size="2.5" fill="#555">83,724,500 bp</text>
<text x="136.5" y="796.2" font-size="2.5" fill="#555">83,725,000 bp</text>
<text x="171.5" y="796.2" font-size="2.5" fill="#555">83,725,500 bp</text>
<text x="206.5" y="796.2" font-size="2.5" fill="#555">83,726,000 bp</text>
<text x="241.5" y="796.2" font-size="2.5" fill="#555">83,726,500 bp</text>
<text x="276.5" y="796.2" font-size="2.5" fill="#555">83,727,000 bp</text>
<text x="311.5" y="796.2" font-size="2.5" fill="#555">83,727,500 bp</text>
<line x1="98.6" y1="806.2" x2="327" y2="806.2" stroke="#b5b5b5" stroke-width="0.5" stroke-dasharray="1 6"/>
<text x="99" y="818.6" font-size="11.2" font-weight="bold" fill="#1a1a1a" stroke="#1a1a1a" stroke-width="0.2">Ex1.1</text>
<line x1="130.6" y1="814.9" x2="327.3" y2="814.9" stroke="#333" stroke-width="0.5"/>
<line x1="193" y1="814" x2="193" y2="815.8" stroke="#333" stroke-width="0.4"/>
<line x1="200" y1="814" x2="200" y2="815.8" stroke="#333" stroke-width="0.4"/>
<line x1="207" y1="814" x2="207" y2="815.8" stroke="#333" stroke-width="0.4"/>
<line x1="214" y1="814" x2="214" y2="815.8" stroke="#333" stroke-width="0.4"/>
<line x1="221" y1="814" x2="221" y2="815.8" stroke="#333" stroke-width="0.4"/>
<line x1="228" y1="814" x2="228" y2="815.8" stroke="#333" stroke-width="0.4"/>
<line x1="235" y1="814" x2="235" y2="815.8" stroke="#333" stroke-width="0.4"/>
<line x1="242" y1="814" x2="242" y2="815.8" stroke="#333" stroke-width="0.4"/>
<line x1="249" y1="814" x2="249" y2="815.8" stroke="#333" stroke-width="0.4"/>
<line x1="256" y1="814" x2="256" y2="815.8" stroke="#333" stroke-width="0.4"/>
<line x1="263" y1="814" x2="263" y2="815.8" stroke="#333" stroke-width="0.4"/>
<line x1="270" y1="814" x2="270" y2="815.8" stroke="#333" stroke-width="0.4"/>
<line x1="277" y1="814" x2="277" y2="815.8" stroke="#333" stroke-width="0.4"/>
<line x1="284" y1="814" x2="284" y2="815.8" stroke="#333" stroke-width="0.4"/>
<line x1="291" y1="814" x2="291" y2="815.8" stroke="#333" stroke-width="0.4"/>
<line x1="298" y1="814" x2="298" y2="815.8" stroke="#333" stroke-width="0.4"/>
<line x1="305" y1="814" x2="305" y2="815.8" stroke="#333" stroke-width="0.4"/>
<line x1="312" y1="814" x2="312" y2="815.8" stroke="#333" stroke-width="0.4"/>
<line x1="319" y1="814" x2="319" y2="815.8" stroke="#333" stroke-width="0.4"/>
<line x1="326" y1="814" x2="326" y2="815.8" stroke="#333" stroke-width="0.4"/>
<rect x="130.6" y="812.9" width="58.5" height="4" fill="#111"/>
<line x1="137.1" y1="814.9" x2="137.9" y2="814.9" stroke="#777" stroke-width="0.5"/>
<line x1="143.6" y1="814.9" x2="144.4" y2="814.9" stroke="#777" stroke-width="0.5"/>
<line x1="150.1" y1="814.9" x2="150.9" y2="814.9" stroke="#777" stroke-width="0.5"/>
<line x1="156.6" y1="814.9" x2="157.4" y2="814.9" stroke="#777" stroke-width="0.5"/>
<line x1="163.1" y1="814.9" x2="163.9" y2="814.9" stroke="#777" stroke-width="0.5"/>
<line x1="169.6" y1="814.9" x2="170.4" y2="814.9" stroke="#777" stroke-width="0.5"/>
<line x1="176.1" y1="814.9" x2="176.9" y2="814.9" stroke="#777" stroke-width="0.5"/>
<line x1="182.6" y1="814.9" x2="183.4" y2="814.9" stroke="#777" stroke-width="0.5"/>
<text x="297.2" y="818.6" font-size="11.2" font-weight="bold" fill="#1a1a1a" stroke="#1a1a1a" stroke-width="0.2">Ex1.2</text>
<rect x="301.8" y="821.9" width="6.3" height="4.7" fill="#111"/>
<line x1="308" y1="824.3" x2="327.3" y2="824.3" stroke="#333" stroke-width="0.5"/>
<line x1="89.9" y1="834.9" x2="329" y2="834.9" stroke="#454545" stroke-width="1.3"/>
<line x1="89.9" y1="920.3" x2="329" y2="920.3" stroke="#454545" stroke-width="1.3"/>
<line x1="89.9" y1="852.5" x2="327" y2="852.5" stroke="#c9c9c9" stroke-width="0.6"/>
<line x1="89.9" y1="869.4" x2="327" y2="869.4" stroke="#c9c9c9" stroke-width="0.6"/>
<line x1="89.9" y1="886.2" x2="327" y2="886.2" stroke="#c9c9c9" stroke-width="0.6"/>
<line x1="89.9" y1="903.1" x2="327" y2="903.1" stroke="#c9c9c9" stroke-width="0.6"/>
<rect x="51.2" y="837.2" width="3.3" height="80.8" fill="#111"/>
<text x="49.7" y="880.2" font-size="17.8" font-weight="bold" text-anchor="middle" fill="#111" transform="rotate(-90 49.7 880.2)" stroke="#111" stroke-width="0.3">CAGE</text>
<text x="75.3" y="847" font-size="11.5" font-weight="bold" text-anchor="middle" fill="#1a1a1a" stroke="#1a1a1a" stroke-width="0.2">HL60</text>
<text x="75.3" y="864.4" font-size="11.5" font-weight="bold" text-anchor="middle" fill="#1a1a1a" stroke="#1a1a1a" stroke-width="0.2">U937</text>
<text x="75.3" y="881.8" font-size="11.5" font-weight="bold" text-anchor="middle" fill="#1a1a1a" stroke="#1a1a1a" stroke-width="0.2">Mono</text>
<text x="75.3" y="900" font-size="11.5" font-weight="bold" text-anchor="middle" fill="#1a1a1a" stroke="#1a1a1a" stroke-width="0.2">CD34+</text>
<text x="75.3" y="917.6" font-size="11.5" font-weight="bold" text-anchor="middle" fill="#1a1a1a" stroke="#1a1a1a" stroke-width="0.2">K562</text>
<path d="M107.4 852.4 L107.4 852.1 L109 851.5 L111 851.9 L113.6 852.1 L113.6 852.4 Z" fill="#111"/>
<path d="M118.6 852.4 L118.6 852.1 L120.2 850.4 L121.2 848 L122.2 850 L124.8 852 L124.8 852.4 Z" fill="#111"/>
<path d="M153.4 852.4 L153.4 852.1 L154.6 846.4 L155.4 843.4 L156.2 841.4 L156.8 837.5 L157.4 841.9 L158.2 844.4 L159 849.9 L160 851.8 L161.4 851.2 L162.3 849.2 L163.4 851.2 L165.4 851.6 L167.2 850.4 L168.5 848.7 L170 850.8 L172 851.9 L172 852.4 Z" fill="#111"/>
<path d="M174 852.4 L174 852.1 L176 851.5 L178.5 851.8 L181 851.5 L183.4 851.4 L184.6 849.8 L185.6 847.9 L186.6 849.8 L188.6 852 L188.6 852.4 Z" fill="#111"/>
<rect x="157" y="844.4" width="0.7" height="8" fill="#2b4a9a"/>
<rect x="164.6" y="851.5" width="0.9" height="0.9" fill="#c03a3a"/>
<rect x="176.8" y="851.5" width="0.9" height="0.9" fill="#c03a3a"/>
<rect x="181.6" y="851.5" width="0.9" height="0.9" fill="#c03a3a"/>
<rect x="112" y="851.5" width="0.9" height="0.9" fill="#c03a3a"/>
<rect x="217.5" y="851.7" width="2.2" height="0.7" fill="#333"/>
<rect x="235" y="851.7" width="2.2" height="0.7" fill="#333"/>
<rect x="246.5" y="851.7" width="2.2" height="0.7" fill="#333"/>
<rect x="253.5" y="851.7" width="2.2" height="0.7" fill="#333"/>
<rect x="262.5" y="851.7" width="2.2" height="0.7" fill="#333"/>
<rect x="324.5" y="851.7" width="2.2" height="0.7" fill="#333"/>
<path d="M300.8 852.4 L300.8 852.1 L301.6 847.9 L302.3 845.5 L303 848.8 L304.2 848.4 L305.4 850.4 L307 851.4 L308.6 852.1 L308.6 852.4 Z" fill="#111"/>
<path d="M111 869.3 L111 869 L113 868.7 L113 869.3 Z" fill="#111"/>
<path d="M118.8 869.3 L118.8 869 L120.4 867.7 L121.2 865.4 L122.2 867.5 L124 869 L124 869.3 Z" fill="#111"/>
<path d="M153.2 869.3 L153.2 869 L154.6 864.8 L155.6 862.3 L156.6 858.6 L157.4 862.3 L158.4 864.8 L159.4 867.8 L160.6 868.7 L162 867.9 L163 868.8 L165.2 867.9 L166.4 866.1 L167.4 865.1 L168.6 866.7 L170.2 867.8 L172 868.9 L172 869.3 Z" fill="#111"/>
<path d="M174 869.3 L174 869 L178 868.6 L182 868.7 L185.5 868.2 L187 869 L187 869.3 Z" fill="#111"/>
<rect x="121.6" y="868.4" width="1" height="0.9" fill="#c03a3a"/>
<rect x="176.5" y="868.4" width="1" height="0.9" fill="#c03a3a"/>
<rect x="185" y="868.4" width="1" height="0.9" fill="#c03a3a"/>
<rect x="305.8" y="868.4" width="1" height="0.9" fill="#c03a3a"/>
<path d="M300.8 869.3 L300.8 869 L301.8 867.3 L302.4 866 L303.2 867.7 L304.6 868.1 L306 868.6 L308.8 869 L308.8 869.3 Z" fill="#111"/>
<rect x="155.6" y="885.5" width="1" height="0.6" fill="#666"/>
<rect x="304.6" y="885.6" width="1.4" height="0.5" fill="#a55"/>
<rect x="121.5" y="902.5" width="1" height="0.5" fill="#777"/>
<rect x="231.5" y="902.5" width="1" height="0.5" fill="#a77"/>
<rect x="155.6" y="919.2" width="1.2" height="0.6" fill="#222"/>
<rect x="171" y="919.2" width="1.2" height="0.6" fill="#222"/>
<rect x="292" y="919.2" width="1.2" height="0.6" fill="#222"/>
<rect x="309" y="919.2" width="1.2" height="0.6" fill="#222"/>
</g>
<!-- Panel G -->
<g>
<text x="361.5" y="760.55" font-size="16.5" font-weight="bold" fill="#111">G</text>
<text x="443.4" y="763.3" font-size="12.77" font-weight="bold" fill="#1a1a1a">MALNC <tspan font-style="italic">locus of Ex 1.0, 1.1 and 1.2</tspan></text>
<text x="441.3" y="778.3" font-size="13" font-style="italic" fill="#1c1c1c" textLength="210.4" lengthAdjust="spacingAndGlyphs">GRChr37, chr14:83,711,285-83,737,170</text>
<rect x="441.6" y="781.3" width="237.9" height="4.7" fill="#ececec" stroke="#8a8a8a" stroke-width="0.5" rx="2.35"/>
<rect x="496.5" y="781.6" width="18.8" height="4.1" fill="#111"/>
<rect x="517.2" y="781.6" width="3.6" height="4.1" fill="#9a9a9a"/>
<rect x="522" y="781.6" width="2" height="4.1" fill="#777"/>
<rect x="525.7" y="781.6" width="12.5" height="4.1" fill="#111"/>
<rect x="539" y="781.6" width="6.2" height="4.1" fill="#d0d0d0"/>
<rect x="547" y="781.6" width="7.4" height="4.1" fill="#111"/>
<rect x="555.2" y="781.6" width="6.2" height="4.1" fill="#cfcfcf"/>
<rect x="564" y="781.6" width="5.4" height="4.1" fill="#c4c4c4"/>
<rect x="571.4" y="781.6" width="8" height="4.1" fill="#555"/>
<rect x="580.2" y="781.6" width="5" height="4.1" fill="#d5d5d5"/>
<rect x="586.4" y="781.6" width="5.5" height="4.1" fill="#8a8a8a"/>
<rect x="592.7" y="781.6" width="5" height="4.1" fill="#c9c9c9"/>
<rect x="598.4" y="781.6" width="7.5" height="4.1" fill="#7a7a7a"/>
<rect x="618.3" y="781.6" width="9.3" height="4.1" fill="#111"/>
<rect x="627.6" y="781.6" width="1.4" height="4.1" fill="#c8102e"/>
<rect x="630.8" y="781.6" width="10" height="4.1" fill="#111"/>
<rect x="641.8" y="781.6" width="4.5" height="4.1" fill="#d0d0d0"/>
<rect x="646.8" y="781.6" width="4.5" height="4.1" fill="#bdbdbd"/>
<rect x="656.3" y="781.6" width="10" height="4.1" fill="#8a8a8a"/>
<rect x="667.5" y="781.6" width="3.8" height="4.1" fill="#c9c9c9"/>
<rect x="673.8" y="781.6" width="3.7" height="4.1" fill="#9a9a9a"/>
<path d="M477.3 781.6 L480.8 783.65 L477.3 785.7 Z M484.3 781.6 L480.8 783.65 L484.3 785.7 Z" fill="#c8102e"/>
<text x="443.5" y="798.2" font-size="2.5" fill="#555">83,712 kb</text>
<text x="460.8" y="798.2" font-size="2.5" fill="#555">83,714 kb</text>
<text x="478.1" y="798.2" font-size="2.5" fill="#555">83,716 kb</text>
<text x="495.4" y="798.2" font-size="2.5" fill="#555">83,718 kb</text>
<text x="512.7" y="798.2" font-size="2.5" fill="#555">83,720 kb</text>
<text x="530" y="798.2" font-size="2.5" fill="#555">83,722 kb</text>
<text x="547.3" y="798.2" font-size="2.5" fill="#555">83,724 kb</text>
<text x="564.6" y="798.2" font-size="2.5" fill="#555">83,726 kb</text>
<text x="581.9" y="798.2" font-size="2.5" fill="#555">83,728 kb</text>
<text x="599.2" y="798.2" font-size="2.5" fill="#555">83,730 kb</text>
<text x="616.5" y="798.2" font-size="2.5" fill="#555">83,732 kb</text>
<text x="633.8" y="798.2" font-size="2.5" fill="#555">83,734 kb</text>
<text x="651.1" y="798.2" font-size="2.5" fill="#555">83,736 kb</text>
<text x="668.4" y="798.2" font-size="2.5" fill="#555">83,738 kb</text>
<line x1="441.6" y1="800.6" x2="679" y2="800.6" stroke="#808080" stroke-width="0.6"/>
<line x1="443" y1="800.6" x2="443" y2="798.8" stroke="#909090" stroke-width="0.4"/>
<line x1="447.32" y1="800.6" x2="447.32" y2="799.4" stroke="#909090" stroke-width="0.4"/>
<line x1="451.64" y1="800.6" x2="451.64" y2="799.4" stroke="#909090" stroke-width="0.4"/>
<line x1="455.96" y1="800.6" x2="455.96" y2="799.4" stroke="#909090" stroke-width="0.4"/>
<line x1="460.28" y1="800.6" x2="460.28" y2="798.8" stroke="#909090" stroke-width="0.4"/>
<line x1="464.6" y1="800.6" x2="464.6" y2="799.4" stroke="#909090" stroke-width="0.4"/>
<line x1="468.92" y1="800.6" x2="468.92" y2="799.4" stroke="#909090" stroke-width="0.4"/>
<line x1="473.24" y1="800.6" x2="473.24" y2="799.4" stroke="#909090" stroke-width="0.4"/>
<line x1="477.56" y1="800.6" x2="477.56" y2="798.8" stroke="#909090" stroke-width="0.4"/>
<line x1="481.88" y1="800.6" x2="481.88" y2="799.4" stroke="#909090" stroke-width="0.4"/>
<line x1="486.2" y1="800.6" x2="486.2" y2="799.4" stroke="#909090" stroke-width="0.4"/>
<line x1="490.52" y1="800.6" x2="490.52" y2="799.4" stroke="#909090" stroke-width="0.4"/>
<line x1="494.84" y1="800.6" x2="494.84" y2="798.8" stroke="#909090" stroke-width="0.4"/>
<line x1="499.16" y1="800.6" x2="499.16" y2="799.4" stroke="#909090" stroke-width="0.4"/>
<line x1="503.48" y1="800.6" x2="503.48" y2="799.4" stroke="#909090" stroke-width="0.4"/>
<line x1="507.8" y1="800.6" x2="507.8" y2="799.4" stroke="#909090" stroke-width="0.4"/>
<line x1="512.12" y1="800.6" x2="512.12" y2="798.8" stroke="#909090" stroke-width="0.4"/>
<line x1="516.44" y1="800.6" x2="516.44" y2="799.4" stroke="#909090" stroke-width="0.4"/>
<line x1="520.76" y1="800.6" x2="520.76" y2="799.4" stroke="#909090" stroke-width="0.4"/>
<line x1="525.08" y1="800.6" x2="525.08" y2="799.4" stroke="#909090" stroke-width="0.4"/>
<line x1="529.4" y1="800.6" x2="529.4" y2="798.8" stroke="#909090" stroke-width="0.4"/>
<line x1="533.72" y1="800.6" x2="533.72" y2="799.4" stroke="#909090" stroke-width="0.4"/>
<line x1="538.04" y1="800.6" x2="538.04" y2="799.4" stroke="#909090" stroke-width="0.4"/>
<line x1="542.36" y1="800.6" x2="542.36" y2="799.4" stroke="#909090" stroke-width="0.4"/>
<line x1="546.68" y1="800.6" x2="546.68" y2="798.8" stroke="#909090" stroke-width="0.4"/>
<line x1="551" y1="800.6" x2="551" y2="799.4" stroke="#909090" stroke-width="0.4"/>
<line x1="555.32" y1="800.6" x2="555.32" y2="799.4" stroke="#909090" stroke-width="0.4"/>
<line x1="559.64" y1="800.6" x2="559.64" y2="799.4" stroke="#909090" stroke-width="0.4"/>
<line x1="563.96" y1="800.6" x2="563.96" y2="798.8" stroke="#909090" stroke-width="0.4"/>
<line x1="568.28" y1="800.6" x2="568.28" y2="799.4" stroke="#909090" stroke-width="0.4"/>
<line x1="572.6" y1="800.6" x2="572.6" y2="799.4" stroke="#909090" stroke-width="0.4"/>
<line x1="576.92" y1="800.6" x2="576.92" y2="799.4" stroke="#909090" stroke-width="0.4"/>
<line x1="581.24" y1="800.6" x2="581.24" y2="798.8" stroke="#909090" stroke-width="0.4"/>
<line x1="585.56" y1="800.6" x2="585.56" y2="799.4" stroke="#909090" stroke-width="0.4"/>
<line x1="589.88" y1="800.6" x2="589.88" y2="799.4" stroke="#909090" stroke-width="0.4"/>
<line x1="594.2" y1="800.6" x2="594.2" y2="799.4" stroke="#909090" stroke-width="0.4"/>
<line x1="598.52" y1="800.6" x2="598.52" y2="798.8" stroke="#909090" stroke-width="0.4"/>
<line x1="602.84" y1="800.6" x2="602.84" y2="799.4" stroke="#909090" stroke-width="0.4"/>
<line x1="607.16" y1="800.6" x2="607.16" y2="799.4" stroke="#909090" stroke-width="0.4"/>
<line x1="611.48" y1="800.6" x2="611.48" y2="799.4" stroke="#909090" stroke-width="0.4"/>
<line x1="615.8" y1="800.6" x2="615.8" y2="798.8" stroke="#909090" stroke-width="0.4"/>
<line x1="620.12" y1="800.6" x2="620.12" y2="799.4" stroke="#909090" stroke-width="0.4"/>
<line x1="624.44" y1="800.6" x2="624.44" y2="799.4" stroke="#909090" stroke-width="0.4"/>
<line x1="628.76" y1="800.6" x2="628.76" y2="799.4" stroke="#909090" stroke-width="0.4"/>
<line x1="633.08" y1="800.6" x2="633.08" y2="798.8" stroke="#909090" stroke-width="0.4"/>
<line x1="637.4" y1="800.6" x2="637.4" y2="799.4" stroke="#909090" stroke-width="0.4"/>
<line x1="641.72" y1="800.6" x2="641.72" y2="799.4" stroke="#909090" stroke-width="0.4"/>
<line x1="646.04" y1="800.6" x2="646.04" y2="799.4" stroke="#909090" stroke-width="0.4"/>
<line x1="650.36" y1="800.6" x2="650.36" y2="798.8" stroke="#909090" stroke-width="0.4"/>
<line x1="654.68" y1="800.6" x2="654.68" y2="799.4" stroke="#909090" stroke-width="0.4"/>
<line x1="659" y1="800.6" x2="659" y2="799.4" stroke="#909090" stroke-width="0.4"/>
<line x1="663.32" y1="800.6" x2="663.32" y2="799.4" stroke="#909090" stroke-width="0.4"/>
<line x1="667.64" y1="800.6" x2="667.64" y2="798.8" stroke="#909090" stroke-width="0.4"/>
<line x1="671.96" y1="800.6" x2="671.96" y2="799.4" stroke="#909090" stroke-width="0.4"/>
<line x1="676.28" y1="800.6" x2="676.28" y2="799.4" stroke="#909090" stroke-width="0.4"/>
<text transform="translate(422.9 813.1) scale(0.92 1)" font-size="11.5" font-weight="bold" fill="#151515" stroke="#151515" stroke-width="0.2">Ex1.0</text>
<line x1="454.4" y1="804.4" x2="678.8" y2="804.4" stroke="#444" stroke-width="0.5"/>
<line x1="454.4" y1="802.8" x2="454.4" y2="806.2" stroke="#222" stroke-width="0.8"/>
<line x1="461.2" y1="803.7" x2="461.2" y2="805.1" stroke="#555" stroke-width="0.4"/>
<line x1="468" y1="803.7" x2="468" y2="805.1" stroke="#555" stroke-width="0.4"/>
<line x1="474.8" y1="803.7" x2="474.8" y2="805.1" stroke="#555" stroke-width="0.4"/>
<line x1="481.6" y1="803.7" x2="481.6" y2="805.1" stroke="#555" stroke-width="0.4"/>
<line x1="488.4" y1="803.7" x2="488.4" y2="805.1" stroke="#555" stroke-width="0.4"/>
<line x1="495.2" y1="803.7" x2="495.2" y2="805.1" stroke="#555" stroke-width="0.4"/>
<line x1="502" y1="803.7" x2="502" y2="805.1" stroke="#555" stroke-width="0.4"/>
<line x1="508.8" y1="803.7" x2="508.8" y2="805.1" stroke="#555" stroke-width="0.4"/>
<line x1="515.6" y1="803.7" x2="515.6" y2="805.1" stroke="#555" stroke-width="0.4"/>
<line x1="522.4" y1="803.7" x2="522.4" y2="805.1" stroke="#555" stroke-width="0.4"/>
<line x1="529.2" y1="803.7" x2="529.2" y2="805.1" stroke="#555" stroke-width="0.4"/>
<line x1="536" y1="803.7" x2="536" y2="805.1" stroke="#555" stroke-width="0.4"/>
<line x1="542.8" y1="803.7" x2="542.8" y2="805.1" stroke="#555" stroke-width="0.4"/>
<line x1="549.6" y1="803.7" x2="549.6" y2="805.1" stroke="#555" stroke-width="0.4"/>
<line x1="556.4" y1="803.7" x2="556.4" y2="805.1" stroke="#555" stroke-width="0.4"/>
<line x1="563.2" y1="803.7" x2="563.2" y2="805.1" stroke="#555" stroke-width="0.4"/>
<line x1="570" y1="803.7" x2="570" y2="805.1" stroke="#555" stroke-width="0.4"/>
<line x1="576.8" y1="803.7" x2="576.8" y2="805.1" stroke="#555" stroke-width="0.4"/>
<line x1="583.6" y1="803.7" x2="583.6" y2="805.1" stroke="#555" stroke-width="0.4"/>
<line x1="590.4" y1="803.7" x2="590.4" y2="805.1" stroke="#555" stroke-width="0.4"/>
<line x1="597.2" y1="803.7" x2="597.2" y2="805.1" stroke="#555" stroke-width="0.4"/>
<line x1="604" y1="803.7" x2="604" y2="805.1" stroke="#555" stroke-width="0.4"/>
<line x1="610.8" y1="803.7" x2="610.8" y2="805.1" stroke="#555" stroke-width="0.4"/>
<line x1="617.6" y1="803.7" x2="617.6" y2="805.1" stroke="#555" stroke-width="0.4"/>
<line x1="624.4" y1="803.7" x2="624.4" y2="805.1" stroke="#555" stroke-width="0.4"/>
<line x1="631.2" y1="803.7" x2="631.2" y2="805.1" stroke="#555" stroke-width="0.4"/>
<line x1="638" y1="803.7" x2="638" y2="805.1" stroke="#555" stroke-width="0.4"/>
<line x1="644.8" y1="803.7" x2="644.8" y2="805.1" stroke="#555" stroke-width="0.4"/>
<line x1="651.6" y1="803.7" x2="651.6" y2="805.1" stroke="#555" stroke-width="0.4"/>
<line x1="658.4" y1="803.7" x2="658.4" y2="805.1" stroke="#555" stroke-width="0.4"/>
<line x1="665.2" y1="803.7" x2="665.2" y2="805.1" stroke="#555" stroke-width="0.4"/>
<line x1="672" y1="803.7" x2="672" y2="805.1" stroke="#555" stroke-width="0.4"/>
<text transform="translate(568.2 814.9) scale(0.9 1)" font-size="11.5" font-weight="bold" fill="#151515" stroke="#151515" stroke-width="0.2">Ex1.1</text>
<rect x="600.1" y="809.1" width="9.5" height="2" fill="#111"/>
<line x1="609.6" y1="810.1" x2="678.8" y2="810.1" stroke="#555" stroke-width="0.5" stroke-dasharray="1.2 4"/>
<text transform="translate(648 812.9) scale(0.9 1)" font-size="11.5" font-weight="bold" fill="#151515" stroke="#151515" stroke-width="0.2">Ex1.2</text>
<line x1="628.3" y1="814.5" x2="678.8" y2="814.5" stroke="#444" stroke-width="0.5"/>
<rect x="628.3" y="813.6" width="1.4" height="1.8" fill="#111"/>
<line x1="635.1" y1="813.9" x2="635.1" y2="815.1" stroke="#555" stroke-width="0.4"/>
<line x1="641.9" y1="813.9" x2="641.9" y2="815.1" stroke="#555" stroke-width="0.4"/>
<line x1="648.7" y1="813.9" x2="648.7" y2="815.1" stroke="#555" stroke-width="0.4"/>
<line x1="655.5" y1="813.9" x2="655.5" y2="815.1" stroke="#555" stroke-width="0.4"/>
<line x1="662.3" y1="813.9" x2="662.3" y2="815.1" stroke="#555" stroke-width="0.4"/>
<line x1="669.1" y1="813.9" x2="669.1" y2="815.1" stroke="#555" stroke-width="0.4"/>
<line x1="675.9" y1="813.9" x2="675.9" y2="815.1" stroke="#555" stroke-width="0.4"/>
<line x1="441.1" y1="817.9" x2="679.3" y2="817.9" stroke="#222" stroke-width="1.2"/>
<line x1="439.9" y1="920.7" x2="678" y2="920.7" stroke="#333" stroke-width="1.3"/>
<line x1="441.1" y1="842.1" x2="678.8" y2="842.1" stroke="#d9d9d9" stroke-width="0.7"/>
<line x1="441.1" y1="861.7" x2="678.8" y2="861.7" stroke="#d9d9d9" stroke-width="0.7"/>
<line x1="441.1" y1="881.9" x2="678.8" y2="881.9" stroke="#d9d9d9" stroke-width="0.7"/>
<line x1="441.1" y1="901.1" x2="678.8" y2="901.1" stroke="#d9d9d9" stroke-width="0.7"/>
<rect x="383.3" y="824.1" width="3" height="98.9" fill="#111"/>
<text x="381.2" y="869.4" font-size="18.4" font-weight="bold" text-anchor="middle" fill="#111" transform="rotate(-90 381.2 869.4)" stroke="#111" stroke-width="0.3">ChIP</text>
<text transform="translate(399.4 835.5) scale(0.88 1)" font-size="10.9" font-weight="bold" text-anchor="middle" fill="#151515" stroke="#151515" stroke-width="0.2">Pol2</text>
<text transform="translate(400 854.4) scale(0.88 1)" font-size="10.9" font-weight="bold" text-anchor="middle" fill="#151515" stroke="#151515" stroke-width="0.2">cMyc</text>
<text transform="translate(400.5 872.4) scale(0.88 1)" font-size="10.9" font-weight="bold" text-anchor="middle" fill="#151515" stroke="#151515" stroke-width="0.2">Max</text>
<text transform="translate(400 893.6) scale(0.88 1)" font-size="10.9" font-weight="bold" text-anchor="middle" fill="#151515" stroke="#151515" stroke-width="0.2">Rest</text>
<text transform="translate(399.7 914.4) scale(0.88 1)" font-size="10.9" font-weight="bold" text-anchor="middle" fill="#151515" stroke="#151515" stroke-width="0.2">Pu1</text>
<rect x="413.2" y="825.4" width="2.8" height="12.2" fill="#111"/>
<rect x="413.2" y="845.6" width="2.8" height="12" fill="#111"/>
<rect x="413.2" y="864.9" width="2.8" height="12.5" fill="#111"/>
<rect x="413.2" y="886.2" width="2.8" height="12.9" fill="#111"/>
<rect x="413.2" y="906.9" width="2.8" height="12.5" fill="#111"/>
<text transform="translate(417.6 828.7) scale(0.85 1)" font-size="8.9" font-weight="bold" fill="#151515" stroke="#151515" stroke-width="0.2">HL60</text>
<text transform="translate(417.6 838.5) scale(0.85 1)" font-size="8.9" font-weight="bold" fill="#151515" stroke="#151515" stroke-width="0.2">K562</text>
<text transform="translate(417.6 849.9) scale(0.85 1)" font-size="8.9" font-weight="bold" fill="#151515" stroke="#151515" stroke-width="0.2">NB4</text>
<text transform="translate(417.6 859.7) scale(0.85 1)" font-size="8.9" font-weight="bold" fill="#151515" stroke="#151515" stroke-width="0.2">K562</text>
<text transform="translate(417.6 868.2) scale(0.85 1)" font-size="8.9" font-weight="bold" fill="#151515" stroke="#151515" stroke-width="0.2">NB4</text>
<text transform="translate(417.6 878.5) scale(0.85 1)" font-size="8.9" font-weight="bold" fill="#151515" stroke="#151515" stroke-width="0.2">K562</text>
<text transform="translate(417.6 889) scale(0.85 1)" font-size="8.9" font-weight="bold" fill="#151515" stroke="#151515" stroke-width="0.2">HL60</text>
<text transform="translate(417.6 899.7) scale(0.85 1)" font-size="8.9" font-weight="bold" fill="#151515" stroke="#151515" stroke-width="0.2">K562</text>
<text transform="translate(417.6 909.7) scale(0.85 1)" font-size="8.9" font-weight="bold" fill="#151515" stroke="#151515" stroke-width="0.2">HL60</text>
<text transform="translate(417.6 921.3) scale(0.85 1)" font-size="8.9" font-weight="bold" fill="#151515" stroke="#151515" stroke-width="0.2">K562</text>
<rect x="557.2" y="824.9" width="9.2" height="4.2" fill="#0f4f8f"/>
<rect x="587.1" y="824.9" width="12.9" height="4.2" fill="#0f4f8f"/>
<rect x="600.8" y="824.9" width="11.1" height="4.2" fill="#0f4f8f"/>
<rect x="616.3" y="824.9" width="7.5" height="4.2" fill="#0f4f8f"/>
<rect x="626.3" y="824.9" width="7.5" height="4.2" fill="#0f4f8f"/>
<rect x="643.1" y="824.9" width="6.9" height="4.2" fill="#0f4f8f"/>
<rect x="553.9" y="844.2" width="0.7" height="4.5" fill="#0f4f8f"/>
<rect x="558.2" y="844.2" width="7" height="4.5" fill="#0f4f8f"/>
<rect x="555.9" y="864.2" width="12.5" height="4.5" fill="#0f4f8f"/>
<rect x="602.1" y="864.2" width="3.8" height="4.5" fill="#0f4f8f"/>
<rect x="558.2" y="883.9" width="5.7" height="4.3" fill="#0f4f8f"/>
<rect x="625.8" y="883.9" width="5" height="4.3" fill="#0f4f8f"/>
<rect x="451.1" y="903.7" width="4.5" height="4.2" fill="#0f4f8f"/>
<rect x="570.2" y="903.7" width="4.5" height="4.2" fill="#0f4f8f"/>
<rect x="626.3" y="903.7" width="4.5" height="4.2" fill="#0f4f8f"/>
</g>
</svg>
</body>
</html>
